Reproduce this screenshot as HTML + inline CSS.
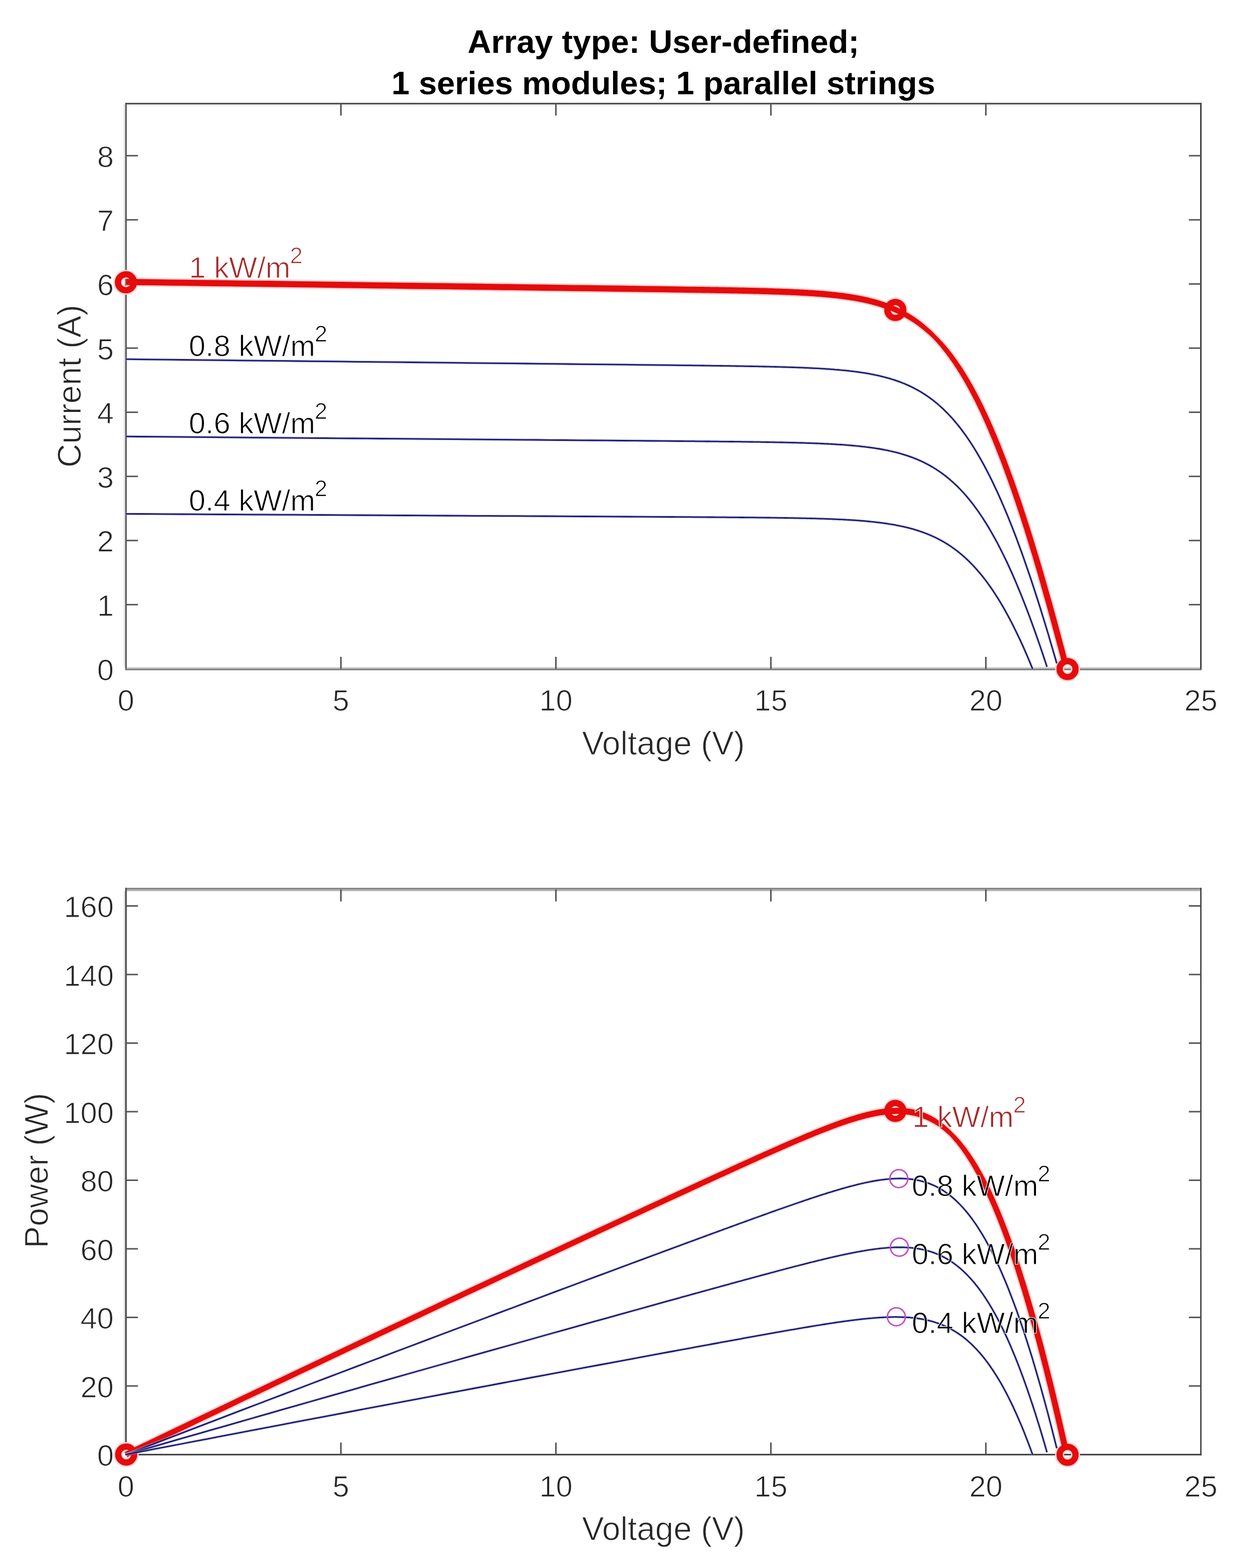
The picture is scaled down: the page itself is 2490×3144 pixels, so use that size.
<!DOCTYPE html>
<html><head><meta charset="utf-8"><title>PV array I-V and P-V characteristics</title>
<style>html,body{margin:0;padding:0;background:#fff;} svg{display:block;}</style>
</head><body>
<svg width="2490" height="3144" viewBox="0 0 2490 3144" font-family="'Liberation Sans', Arial, Helvetica, sans-serif">
<rect x="0" y="0" width="2490" height="3144" fill="#ffffff"/>
<text x="1330" y="105.9" font-size="65.4" font-weight="bold" fill="#000" text-anchor="middle">Array type: User-defined;</text>
<text x="1330" y="189.3" font-size="65.4" font-weight="bold" fill="#000" text-anchor="middle">1 series modules; 1 parallel strings</text>
<rect x="248.2" y="209.2" width="2160.9" height="2.8" fill="#e8e8e8"/>
<rect x="248.2" y="209.2" width="3.0" height="1129.0" fill="#dcdcdc"/>
<rect x="251.2" y="206.2" width="2157.9" height="3.0" fill="#474747"/>
<rect x="251.2" y="206.2" width="2.9" height="1137.7" fill="#505050"/>
<rect x="2406.0" y="206.2" width="3.1" height="1137.7" fill="#444444"/>
<rect x="254.1" y="1338.2" width="2151.9" height="2.9" fill="#bdbdbd"/>
<rect x="251.2" y="1341.1" width="2157.9" height="2.8" fill="#7a7a7a"/>
<text x="252.5" y="1425.0" font-size="60" fill="#262626" stroke="#ffffff" stroke-width="1.1" text-anchor="middle">0</text>
<line x1="683.5" y1="1341.0" x2="683.5" y2="1317.0" stroke="#555555" stroke-width="3"/>
<line x1="683.5" y1="207.7" x2="683.5" y2="231.7" stroke="#555555" stroke-width="3"/>
<text x="683.5" y="1425.0" font-size="60" fill="#262626" stroke="#ffffff" stroke-width="1.1" text-anchor="middle">5</text>
<line x1="1114.5" y1="1341.0" x2="1114.5" y2="1317.0" stroke="#555555" stroke-width="3"/>
<line x1="1114.5" y1="207.7" x2="1114.5" y2="231.7" stroke="#555555" stroke-width="3"/>
<text x="1114.5" y="1425.0" font-size="60" fill="#262626" stroke="#ffffff" stroke-width="1.1" text-anchor="middle">10</text>
<line x1="1545.5" y1="1341.0" x2="1545.5" y2="1317.0" stroke="#555555" stroke-width="3"/>
<line x1="1545.5" y1="207.7" x2="1545.5" y2="231.7" stroke="#555555" stroke-width="3"/>
<text x="1545.5" y="1425.0" font-size="60" fill="#262626" stroke="#ffffff" stroke-width="1.1" text-anchor="middle">15</text>
<line x1="1976.5" y1="1341.0" x2="1976.5" y2="1317.0" stroke="#555555" stroke-width="3"/>
<line x1="1976.5" y1="207.7" x2="1976.5" y2="231.7" stroke="#555555" stroke-width="3"/>
<text x="1976.5" y="1425.0" font-size="60" fill="#262626" stroke="#ffffff" stroke-width="1.1" text-anchor="middle">20</text>
<text x="2407.5" y="1425.0" font-size="60" fill="#262626" stroke="#ffffff" stroke-width="1.1" text-anchor="middle">25</text>
<text x="228" y="1363.5" font-size="60" fill="#262626" stroke="#ffffff" stroke-width="1.1" text-anchor="end">0</text>
<line x1="252.5" y1="1212.4" x2="276.5" y2="1212.4" stroke="#555555" stroke-width="3"/>
<line x1="2407.5" y1="1212.4" x2="2383.5" y2="1212.4" stroke="#555555" stroke-width="3"/>
<text x="228" y="1234.9" font-size="60" fill="#262626" stroke="#ffffff" stroke-width="1.1" text-anchor="end">1</text>
<line x1="252.5" y1="1083.8" x2="276.5" y2="1083.8" stroke="#555555" stroke-width="3"/>
<line x1="2407.5" y1="1083.8" x2="2383.5" y2="1083.8" stroke="#555555" stroke-width="3"/>
<text x="228" y="1106.3" font-size="60" fill="#262626" stroke="#ffffff" stroke-width="1.1" text-anchor="end">2</text>
<line x1="252.5" y1="955.2" x2="276.5" y2="955.2" stroke="#555555" stroke-width="3"/>
<line x1="2407.5" y1="955.2" x2="2383.5" y2="955.2" stroke="#555555" stroke-width="3"/>
<text x="228" y="977.7" font-size="60" fill="#262626" stroke="#ffffff" stroke-width="1.1" text-anchor="end">3</text>
<line x1="252.5" y1="826.6" x2="276.5" y2="826.6" stroke="#555555" stroke-width="3"/>
<line x1="2407.5" y1="826.6" x2="2383.5" y2="826.6" stroke="#555555" stroke-width="3"/>
<text x="228" y="849.1" font-size="60" fill="#262626" stroke="#ffffff" stroke-width="1.1" text-anchor="end">4</text>
<line x1="252.5" y1="698.0" x2="276.5" y2="698.0" stroke="#555555" stroke-width="3"/>
<line x1="2407.5" y1="698.0" x2="2383.5" y2="698.0" stroke="#555555" stroke-width="3"/>
<text x="228" y="720.5" font-size="60" fill="#262626" stroke="#ffffff" stroke-width="1.1" text-anchor="end">5</text>
<line x1="252.5" y1="569.4" x2="276.5" y2="569.4" stroke="#555555" stroke-width="3"/>
<line x1="2407.5" y1="569.4" x2="2383.5" y2="569.4" stroke="#555555" stroke-width="3"/>
<text x="228" y="591.9" font-size="60" fill="#262626" stroke="#ffffff" stroke-width="1.1" text-anchor="end">6</text>
<line x1="252.5" y1="440.8" x2="276.5" y2="440.8" stroke="#555555" stroke-width="3"/>
<line x1="2407.5" y1="440.8" x2="2383.5" y2="440.8" stroke="#555555" stroke-width="3"/>
<text x="228" y="463.3" font-size="60" fill="#262626" stroke="#ffffff" stroke-width="1.1" text-anchor="end">7</text>
<line x1="252.5" y1="312.2" x2="276.5" y2="312.2" stroke="#555555" stroke-width="3"/>
<line x1="2407.5" y1="312.2" x2="2383.5" y2="312.2" stroke="#555555" stroke-width="3"/>
<text x="228" y="334.7" font-size="60" fill="#262626" stroke="#ffffff" stroke-width="1.1" text-anchor="end">8</text>
<text x="1330" y="1512.5" font-size="66" fill="#262626" stroke="#ffffff" stroke-width="1.1" text-anchor="middle">Voltage (V)</text>
<text transform="translate(161.9,774.3) rotate(-90)" font-size="66" fill="#262626" stroke="#ffffff" stroke-width="1.1" text-anchor="middle">Current (A)</text>
<rect x="248.4" y="1786.9" width="2.6" height="1128.2" fill="#d8d8d8"/>
<rect x="251.0" y="1780.2" width="2157.9" height="3.5" fill="#828282"/>
<rect x="254.2" y="1783.7" width="2152.0" height="3.2" fill="#b5b5b5"/>
<rect x="251.0" y="1780.2" width="3.2" height="1138.0" fill="#4d4d4d"/>
<rect x="2406.2" y="1780.2" width="2.7" height="1138.0" fill="#3e3e3e"/>
<rect x="251.0" y="2915.1" width="2157.9" height="3.1" fill="#3e3e3e"/>
<text x="252.5" y="3000.5" font-size="60" fill="#262626" stroke="#ffffff" stroke-width="1.1" text-anchor="middle">0</text>
<line x1="683.5" y1="2916.5" x2="683.5" y2="2892.5" stroke="#555555" stroke-width="3"/>
<line x1="683.5" y1="1783.5" x2="683.5" y2="1807.5" stroke="#555555" stroke-width="3"/>
<text x="683.5" y="3000.5" font-size="60" fill="#262626" stroke="#ffffff" stroke-width="1.1" text-anchor="middle">5</text>
<line x1="1114.5" y1="2916.5" x2="1114.5" y2="2892.5" stroke="#555555" stroke-width="3"/>
<line x1="1114.5" y1="1783.5" x2="1114.5" y2="1807.5" stroke="#555555" stroke-width="3"/>
<text x="1114.5" y="3000.5" font-size="60" fill="#262626" stroke="#ffffff" stroke-width="1.1" text-anchor="middle">10</text>
<line x1="1545.5" y1="2916.5" x2="1545.5" y2="2892.5" stroke="#555555" stroke-width="3"/>
<line x1="1545.5" y1="1783.5" x2="1545.5" y2="1807.5" stroke="#555555" stroke-width="3"/>
<text x="1545.5" y="3000.5" font-size="60" fill="#262626" stroke="#ffffff" stroke-width="1.1" text-anchor="middle">15</text>
<line x1="1976.5" y1="2916.5" x2="1976.5" y2="2892.5" stroke="#555555" stroke-width="3"/>
<line x1="1976.5" y1="1783.5" x2="1976.5" y2="1807.5" stroke="#555555" stroke-width="3"/>
<text x="1976.5" y="3000.5" font-size="60" fill="#262626" stroke="#ffffff" stroke-width="1.1" text-anchor="middle">20</text>
<text x="2407.5" y="3000.5" font-size="60" fill="#262626" stroke="#ffffff" stroke-width="1.1" text-anchor="middle">25</text>
<text x="228" y="2939.0" font-size="60" fill="#262626" stroke="#ffffff" stroke-width="1.1" text-anchor="end">0</text>
<line x1="252.5" y1="2779.0" x2="276.5" y2="2779.0" stroke="#555555" stroke-width="3"/>
<line x1="2407.5" y1="2779.0" x2="2383.5" y2="2779.0" stroke="#555555" stroke-width="3"/>
<text x="228" y="2801.5" font-size="60" fill="#262626" stroke="#ffffff" stroke-width="1.1" text-anchor="end">20</text>
<line x1="252.5" y1="2641.5" x2="276.5" y2="2641.5" stroke="#555555" stroke-width="3"/>
<line x1="2407.5" y1="2641.5" x2="2383.5" y2="2641.5" stroke="#555555" stroke-width="3"/>
<text x="228" y="2664.0" font-size="60" fill="#262626" stroke="#ffffff" stroke-width="1.1" text-anchor="end">40</text>
<line x1="252.5" y1="2504.0" x2="276.5" y2="2504.0" stroke="#555555" stroke-width="3"/>
<line x1="2407.5" y1="2504.0" x2="2383.5" y2="2504.0" stroke="#555555" stroke-width="3"/>
<text x="228" y="2526.5" font-size="60" fill="#262626" stroke="#ffffff" stroke-width="1.1" text-anchor="end">60</text>
<line x1="252.5" y1="2366.5" x2="276.5" y2="2366.5" stroke="#555555" stroke-width="3"/>
<line x1="2407.5" y1="2366.5" x2="2383.5" y2="2366.5" stroke="#555555" stroke-width="3"/>
<text x="228" y="2389.0" font-size="60" fill="#262626" stroke="#ffffff" stroke-width="1.1" text-anchor="end">80</text>
<line x1="252.5" y1="2229.0" x2="276.5" y2="2229.0" stroke="#555555" stroke-width="3"/>
<line x1="2407.5" y1="2229.0" x2="2383.5" y2="2229.0" stroke="#555555" stroke-width="3"/>
<text x="228" y="2251.5" font-size="60" fill="#262626" stroke="#ffffff" stroke-width="1.1" text-anchor="end">100</text>
<line x1="252.5" y1="2091.5" x2="276.5" y2="2091.5" stroke="#555555" stroke-width="3"/>
<line x1="2407.5" y1="2091.5" x2="2383.5" y2="2091.5" stroke="#555555" stroke-width="3"/>
<text x="228" y="2114.0" font-size="60" fill="#262626" stroke="#ffffff" stroke-width="1.1" text-anchor="end">120</text>
<line x1="252.5" y1="1954.0" x2="276.5" y2="1954.0" stroke="#555555" stroke-width="3"/>
<line x1="2407.5" y1="1954.0" x2="2383.5" y2="1954.0" stroke="#555555" stroke-width="3"/>
<text x="228" y="1976.5" font-size="60" fill="#262626" stroke="#ffffff" stroke-width="1.1" text-anchor="end">140</text>
<line x1="252.5" y1="1816.5" x2="276.5" y2="1816.5" stroke="#555555" stroke-width="3"/>
<line x1="2407.5" y1="1816.5" x2="2383.5" y2="1816.5" stroke="#555555" stroke-width="3"/>
<text x="228" y="1839.0" font-size="60" fill="#262626" stroke="#ffffff" stroke-width="1.1" text-anchor="end">160</text>
<text x="1330" y="3088.0" font-size="66" fill="#262626" stroke="#ffffff" stroke-width="1.1" text-anchor="middle">Voltage (V)</text>
<text transform="translate(95.9,2347) rotate(-90)" font-size="66" fill="#262626" stroke="#ffffff" stroke-width="1.1" text-anchor="middle">Power (W)</text>
<g fill="none" stroke-linejoin="round" stroke-linecap="butt">
<path d="M252.4,574.3 L281.3,574.7 L310.3,575.1 L339.2,575.5 L368.2,575.9 L397.1,576.3 L426.0,576.7 L455.0,577.1 L483.9,577.5 L512.9,577.9 L541.8,578.2 L570.8,578.6 L599.7,579.0 L628.7,579.4 L657.6,579.8 L686.6,580.2 L715.5,580.6 L744.4,581.0 L773.4,581.4 L802.3,581.8 L831.3,582.2 L860.2,582.6 L889.2,582.9 L918.1,583.3 L947.1,583.7 L976.0,584.1 L1004.9,584.5 L1033.9,584.9 L1062.8,585.3 L1091.8,585.7 L1120.7,586.1 L1149.7,586.5 L1178.6,586.9 L1207.6,587.3 L1236.5,587.7 L1265.4,588.1 L1294.4,588.5 L1323.3,588.9 L1352.3,589.3 L1381.2,589.7 L1384.1,589.8 L1387.0,589.8 L1389.9,589.9 L1392.8,589.9 L1395.7,590.0 L1398.6,590.0 L1401.5,590.1 L1404.4,590.1 L1407.4,590.2 L1410.3,590.2 L1413.2,590.3 L1416.1,590.3 L1419.0,590.4 L1421.9,590.4 L1424.8,590.5 L1427.7,590.5 L1430.6,590.6 L1433.5,590.6 L1436.4,590.7 L1439.3,590.7 L1442.2,590.8 L1445.1,590.8 L1448.0,590.9 L1450.9,590.9 L1453.8,591.0 L1456.7,591.0 L1459.6,591.1 L1462.5,591.1 L1465.4,591.2 L1468.3,591.2 L1471.2,591.3 L1474.1,591.4 L1477.1,591.4 L1480.0,591.5 L1482.9,591.5 L1485.8,591.6 L1488.7,591.7 L1491.6,591.7 L1494.5,591.8 L1497.4,591.9 L1500.3,591.9 L1503.2,592.0 L1506.1,592.1 L1509.0,592.1 L1511.9,592.2 L1514.8,592.3 L1517.7,592.3 L1520.6,592.4 L1523.5,592.5 L1526.4,592.6 L1529.3,592.7 L1532.2,592.7 L1535.1,592.8 L1538.0,592.9 L1540.9,593.0 L1543.8,593.1 L1546.7,593.2 L1549.6,593.3 L1552.5,593.4 L1555.4,593.4 L1558.3,593.5 L1561.2,593.6 L1564.1,593.8 L1567.0,593.9 L1569.9,594.0 L1572.8,594.1 L1575.7,594.2 L1578.6,594.3 L1581.5,594.4 L1584.4,594.5 L1587.3,594.7 L1590.2,594.8 L1593.0,594.9 L1595.9,595.1 L1598.8,595.2 L1601.7,595.4 L1604.6,595.5 L1607.5,595.7 L1610.4,595.8 L1613.3,596.0 L1616.2,596.1 L1619.1,596.3 L1622.0,596.5 L1624.9,596.7 L1627.7,596.9 L1630.6,597.0 L1633.5,597.2 L1636.4,597.4 L1639.3,597.7 L1642.2,597.9 L1645.1,598.1 L1647.9,598.3 L1650.8,598.6 L1653.7,598.8 L1656.6,599.1 L1659.5,599.3 L1662.3,599.6 L1665.2,599.9 L1668.1,600.2 L1671.0,600.5 L1673.8,600.8 L1676.7,601.1 L1679.6,601.4 L1682.5,601.8 L1685.3,602.1 L1688.2,602.5 L1691.1,602.9 L1693.9,603.2 L1696.8,603.6 L1699.7,604.1 L1702.5,604.5 L1705.4,604.9 L1708.2,605.4 L1711.1,605.9 L1714.0,606.4 L1716.8,606.9 L1719.7,607.4 L1722.5,607.9 L1725.4,608.5 L1728.2,609.1 L1731.1,609.7 L1733.9,610.3 L1736.8,610.9 L1739.6,611.6 L1742.4,612.3 L1745.3,613.0 L1748.1,613.7 L1751.0,614.4 L1753.8,615.2 L1756.6,616.0 L1759.5,616.9 L1762.3,617.7 L1765.1,618.6 L1768.0,619.5 L1770.8,620.5 L1773.6,621.4 L1776.4,622.5 L1779.3,623.5 L1782.1,624.6 L1784.9,625.7 L1787.7,626.8 L1790.6,628.0 L1793.4,629.3 L1796.2,630.5 L1799.0,631.8 L1801.9,633.2 L1804.7,634.6 L1807.5,636.0 L1810.3,637.5 L1813.2,639.1 L1816.0,640.7 L1818.8,642.3 L1821.7,644.0 L1824.5,645.7 L1827.3,647.5 L1830.2,649.4 L1833.0,651.3 L1835.9,653.3 L1838.7,655.3 L1841.6,657.5 L1844.4,659.6 L1847.3,661.9 L1850.1,664.2 L1853.0,666.5 L1855.9,669.0 L1858.7,671.5 L1861.6,674.1 L1864.5,676.8 L1867.3,679.6 L1870.1,682.5 L1872.9,685.5 L1875.7,688.5 L1878.5,691.7 L1881.3,694.9 L1884.1,698.3 L1887.0,701.7 L1889.8,705.2 L1892.6,708.8 L1895.4,712.4 L1898.2,716.2 L1901.0,720.1 L1903.8,724.0 L1906.7,728.1 L1909.5,732.2 L1912.3,736.4 L1915.2,740.8 L1918.0,745.2 L1920.8,749.7 L1923.7,754.4 L1926.5,759.1 L1929.3,764.0 L1932.2,768.9 L1935.0,773.9 L1937.9,779.1 L1940.7,784.3 L1943.6,789.7 L1946.5,795.2 L1949.3,800.7 L1952.2,806.4 L1955.0,812.2 L1957.9,818.1 L1960.8,824.0 L1963.6,830.1 L1966.5,836.3 L1969.4,842.7 L1972.2,849.1 L1975.1,855.6 L1978.0,862.2 L1980.8,868.9 L1983.7,875.8 L1986.6,882.7 L1989.5,889.8 L1992.4,896.9 L1995.2,904.2 L1998.1,911.5 L2001.0,919.0 L2003.9,926.6 L2006.8,934.2 L2009.7,942.0 L2012.5,949.9 L2015.4,957.8 L2018.3,965.9 L2021.2,974.1 L2024.1,982.3 L2027.0,990.7 L2029.9,999.1 L2032.8,1007.7 L2035.6,1016.3 L2038.5,1025.1 L2041.4,1033.9 L2044.3,1042.8 L2047.2,1051.8 L2050.1,1061.0 L2053.0,1070.1 L2055.9,1079.4 L2058.8,1088.8 L2061.7,1098.3 L2064.6,1107.8 L2067.5,1117.4 L2070.4,1127.1 L2073.3,1136.9 L2076.2,1146.8 L2079.1,1156.8 L2082.0,1166.8 L2084.9,1176.9 L2087.8,1187.1 L2090.7,1197.4 L2093.6,1207.8 L2096.4,1218.2 L2099.3,1228.7 L2102.2,1239.3 L2105.1,1249.9 L2108.0,1260.7 L2110.9,1271.5 L2113.8,1282.3 L2116.7,1293.3 L2119.6,1304.3 L2122.5,1315.3 L2125.4,1326.5 L2142.4,1322.1 L2139.5,1310.9 L2136.6,1299.8 L2133.7,1288.8 L2130.7,1277.8 L2127.8,1266.9 L2124.9,1256.1 L2122.0,1245.4 L2119.1,1234.7 L2116.2,1224.1 L2113.3,1213.5 L2110.4,1203.1 L2107.4,1192.7 L2104.5,1182.4 L2101.6,1172.2 L2098.7,1162.0 L2095.8,1151.9 L2092.9,1141.9 L2090.0,1132.0 L2087.0,1122.2 L2084.1,1112.4 L2081.2,1102.8 L2078.3,1093.2 L2075.4,1083.7 L2072.5,1074.3 L2069.5,1065.0 L2066.6,1055.7 L2063.7,1046.6 L2060.8,1037.5 L2057.9,1028.5 L2055.0,1019.7 L2052.0,1010.9 L2049.1,1002.2 L2046.2,993.6 L2043.3,985.1 L2040.3,976.7 L2037.4,968.3 L2034.5,960.1 L2031.6,952.0 L2028.6,944.0 L2025.7,936.0 L2022.8,928.2 L2019.9,920.5 L2016.9,912.9 L2014.0,905.3 L2011.1,897.9 L2008.1,890.6 L2005.2,883.4 L2002.3,876.2 L1999.3,869.2 L1996.4,862.3 L1993.5,855.5 L1990.5,848.8 L1987.6,842.2 L1984.7,835.7 L1981.7,829.3 L1978.8,823.0 L1975.8,816.9 L1972.9,810.8 L1969.9,804.8 L1967.0,798.9 L1964.0,793.2 L1961.1,787.5 L1958.1,782.0 L1955.2,776.5 L1952.2,771.2 L1949.2,765.9 L1946.3,760.8 L1943.3,755.7 L1940.3,750.8 L1937.4,746.0 L1934.4,741.2 L1931.4,736.6 L1928.4,732.1 L1925.5,727.6 L1922.5,723.3 L1919.5,719.1 L1916.5,714.9 L1913.5,710.9 L1910.5,706.9 L1907.5,703.1 L1904.5,699.3 L1901.5,695.6 L1898.5,692.0 L1895.5,688.6 L1892.5,685.2 L1889.5,681.8 L1886.5,678.6 L1883.5,675.5 L1880.5,672.4 L1877.5,669.4 L1874.5,666.5 L1871.6,663.6 L1868.6,660.7 L1865.7,658.0 L1862.8,655.3 L1859.8,652.7 L1856.9,650.2 L1853.9,647.7 L1850.9,645.3 L1848.0,643.0 L1845.0,640.7 L1842.1,638.6 L1839.1,636.4 L1836.1,634.4 L1833.1,632.4 L1830.2,630.4 L1827.2,628.5 L1824.2,626.7 L1821.2,624.9 L1818.2,623.2 L1815.3,621.5 L1812.3,619.9 L1809.3,618.4 L1806.3,616.9 L1803.3,615.4 L1800.3,614.0 L1797.3,612.6 L1794.4,611.3 L1791.4,610.0 L1788.4,608.8 L1785.4,607.6 L1782.4,606.4 L1779.4,605.3 L1776.4,604.2 L1773.5,603.2 L1770.5,602.2 L1767.5,601.2 L1764.5,600.2 L1761.5,599.3 L1758.6,598.5 L1755.6,597.6 L1752.6,596.8 L1749.6,596.0 L1746.7,595.2 L1743.7,594.5 L1740.7,593.8 L1737.8,593.1 L1734.8,592.4 L1731.8,591.8 L1728.9,591.2 L1725.9,590.6 L1723.0,590.0 L1720.0,589.4 L1717.0,588.9 L1714.1,588.4 L1711.1,587.9 L1708.2,587.4 L1705.2,586.9 L1702.3,586.5 L1699.3,586.1 L1696.4,585.6 L1693.4,585.2 L1690.5,584.8 L1687.6,584.5 L1684.6,584.1 L1681.7,583.7 L1678.7,583.4 L1675.8,583.1 L1672.9,582.7 L1669.9,582.4 L1667.0,582.1 L1664.1,581.8 L1661.1,581.6 L1658.2,581.3 L1655.3,581.0 L1652.3,580.8 L1649.4,580.5 L1646.5,580.3 L1643.5,580.1 L1640.6,579.8 L1637.7,579.6 L1634.8,579.4 L1631.8,579.2 L1628.9,579.0 L1626.0,578.8 L1623.1,578.6 L1620.2,578.5 L1617.2,578.3 L1614.3,578.1 L1611.4,578.0 L1608.5,577.8 L1605.5,577.6 L1602.6,577.5 L1599.7,577.3 L1596.8,577.2 L1593.9,577.1 L1591.0,576.9 L1588.0,576.8 L1585.1,576.7 L1582.2,576.5 L1579.3,576.4 L1576.4,576.3 L1573.5,576.2 L1570.6,576.1 L1567.6,576.0 L1564.7,575.9 L1561.8,575.8 L1558.9,575.7 L1556.0,575.6 L1553.1,575.5 L1550.2,575.4 L1547.3,575.3 L1544.3,575.2 L1541.4,575.1 L1538.5,575.0 L1535.6,574.9 L1532.7,574.8 L1529.8,574.8 L1526.9,574.7 L1524.0,574.6 L1521.1,574.5 L1518.1,574.5 L1515.2,574.4 L1512.3,574.3 L1509.4,574.2 L1506.5,574.2 L1503.6,574.1 L1500.7,574.0 L1497.8,574.0 L1494.9,573.9 L1492.0,573.8 L1489.1,573.8 L1486.1,573.7 L1483.2,573.6 L1480.3,573.6 L1477.4,573.5 L1474.5,573.5 L1471.6,573.4 L1468.7,573.4 L1465.8,573.3 L1462.9,573.2 L1460.0,573.2 L1457.1,573.1 L1454.2,573.1 L1451.2,573.0 L1448.3,573.0 L1445.4,572.9 L1442.5,572.9 L1439.6,572.8 L1436.7,572.8 L1433.8,572.7 L1430.9,572.7 L1428.0,572.6 L1425.1,572.6 L1422.2,572.5 L1419.3,572.5 L1416.4,572.4 L1413.5,572.4 L1410.6,572.3 L1407.6,572.3 L1404.7,572.2 L1401.8,572.2 L1398.9,572.1 L1396.0,572.1 L1393.1,572.0 L1390.2,572.0 L1387.3,571.9 L1384.4,571.9 L1381.5,571.9 L1352.5,571.4 L1323.6,571.0 L1294.6,570.6 L1265.7,570.2 L1236.7,569.8 L1207.8,569.4 L1178.9,569.0 L1149.9,568.6 L1121.0,568.2 L1092.0,567.8 L1063.1,567.4 L1034.1,567.0 L1005.2,566.6 L976.2,566.2 L947.3,565.8 L918.4,565.4 L889.4,565.0 L860.5,564.7 L831.5,564.3 L802.6,563.9 L773.6,563.5 L744.7,563.1 L715.7,562.7 L686.8,562.3 L657.8,561.9 L628.9,561.5 L600.0,561.1 L571.0,560.7 L542.1,560.3 L513.1,560.0 L484.2,559.6 L455.2,559.2 L426.3,558.8 L397.3,558.4 L368.4,558.0 L339.5,557.6 L310.5,557.2 L281.6,556.8 L252.6,556.4 Z" fill="#ffd2d2" stroke="none"/><circle cx="252.5" cy="566.0" r="16" stroke="#ffd2d2" stroke-width="18"/><circle cx="1795.0" cy="621.5" r="16" stroke="#ffd2d2" stroke-width="18"/><circle cx="2140.3" cy="1341.5" r="16" stroke="#ffd2d2" stroke-width="18"/><path d="M252.4,571.5 L281.4,571.9 L310.3,572.3 L339.3,572.7 L368.2,573.1 L397.1,573.5 L426.1,573.9 L455.0,574.3 L484.0,574.7 L512.9,575.1 L541.9,575.4 L570.8,575.8 L599.8,576.2 L628.7,576.6 L657.6,577.0 L686.6,577.4 L715.5,577.8 L744.5,578.2 L773.4,578.6 L802.4,579.0 L831.3,579.4 L860.3,579.8 L889.2,580.1 L918.1,580.5 L947.1,580.9 L976.0,581.3 L1005.0,581.7 L1033.9,582.1 L1062.9,582.5 L1091.8,582.9 L1120.8,583.3 L1149.7,583.7 L1178.7,584.1 L1207.6,584.5 L1236.5,584.9 L1265.5,585.3 L1294.4,585.7 L1323.4,586.1 L1352.3,586.5 L1381.3,586.9 L1384.2,587.0 L1387.1,587.0 L1390.0,587.1 L1392.9,587.1 L1395.8,587.2 L1398.7,587.2 L1401.6,587.3 L1404.5,587.3 L1407.4,587.4 L1410.3,587.4 L1413.2,587.5 L1416.1,587.5 L1419.0,587.6 L1421.9,587.6 L1424.8,587.7 L1427.7,587.7 L1430.6,587.8 L1433.5,587.8 L1436.4,587.9 L1439.4,587.9 L1442.3,588.0 L1445.2,588.0 L1448.1,588.1 L1451.0,588.1 L1453.9,588.2 L1456.8,588.2 L1459.7,588.3 L1462.6,588.3 L1465.5,588.4 L1468.4,588.4 L1471.3,588.5 L1474.2,588.6 L1477.1,588.6 L1480.0,588.7 L1482.9,588.7 L1485.8,588.8 L1488.7,588.9 L1491.6,588.9 L1494.5,589.0 L1497.4,589.1 L1500.3,589.1 L1503.2,589.2 L1506.1,589.3 L1509.0,589.3 L1512.0,589.4 L1514.9,589.5 L1517.8,589.5 L1520.7,589.6 L1523.6,589.7 L1526.5,589.8 L1529.4,589.9 L1532.3,589.9 L1535.2,590.0 L1538.1,590.1 L1541.0,590.2 L1543.9,590.3 L1546.8,590.4 L1549.7,590.5 L1552.6,590.6 L1555.5,590.7 L1558.4,590.7 L1561.3,590.8 L1564.2,591.0 L1567.1,591.1 L1570.0,591.2 L1572.9,591.3 L1575.8,591.4 L1578.7,591.5 L1581.6,591.6 L1584.5,591.7 L1587.4,591.9 L1590.3,592.0 L1593.2,592.1 L1596.1,592.3 L1599.0,592.4 L1601.9,592.6 L1604.8,592.7 L1607.7,592.9 L1610.6,593.0 L1613.5,593.2 L1616.3,593.3 L1619.2,593.5 L1622.1,593.7 L1625.0,593.9 L1627.9,594.1 L1630.8,594.3 L1633.7,594.5 L1636.6,594.7 L1639.5,594.9 L1642.4,595.1 L1645.3,595.3 L1648.2,595.5 L1651.1,595.8 L1653.9,596.0 L1656.8,596.3 L1659.7,596.5 L1662.6,596.8 L1665.5,597.1 L1668.4,597.4 L1671.3,597.7 L1674.2,598.0 L1677.0,598.3 L1679.9,598.6 L1682.8,599.0 L1685.7,599.3 L1688.6,599.7 L1691.4,600.1 L1694.3,600.5 L1697.2,600.9 L1700.1,601.3 L1703.0,601.7 L1705.8,602.2 L1708.7,602.6 L1711.6,603.1 L1714.4,603.6 L1717.3,604.1 L1720.2,604.6 L1723.1,605.2 L1725.9,605.7 L1728.8,606.3 L1731.7,606.9 L1734.5,607.5 L1737.4,608.2 L1740.3,608.8 L1743.1,609.5 L1746.0,610.2 L1748.8,611.0 L1751.7,611.7 L1754.6,612.5 L1757.4,613.3 L1760.3,614.2 L1763.1,615.0 L1766.0,615.9 L1768.8,616.9 L1771.7,617.8 L1774.6,618.8 L1777.4,619.8 L1780.3,620.9 L1783.1,622.0 L1786.0,623.1 L1788.8,624.3 L1791.7,625.5 L1794.5,626.7 L1797.4,628.0 L1800.3,629.3 L1803.1,630.7 L1806.0,632.1 L1808.8,633.6 L1811.7,635.1 L1814.6,636.6 L1817.4,638.2 L1820.3,639.9 L1823.1,641.6 L1826.0,643.4 L1828.9,645.2 L1831.8,647.1 L1834.6,649.0 L1837.5,651.0 L1840.4,653.1 L1843.3,655.2 L1846.2,657.4 L1849.0,659.7 L1851.9,662.0 L1854.8,664.4 L1857.7,666.9 L1860.6,669.5 L1863.5,672.1 L1866.4,674.8 L1869.3,677.6 L1872.2,680.5 L1875.0,683.5 L1877.8,686.6 L1880.6,689.8 L1883.5,693.1 L1886.3,696.4 L1889.1,699.9 L1891.9,703.4 L1894.8,707.0 L1897.6,710.7 L1900.4,714.5 L1903.3,718.4 L1906.1,722.4 L1909.0,726.5 L1911.8,730.6 L1914.7,734.9 L1917.5,739.2 L1920.3,743.7 L1923.2,748.3 L1926.1,752.9 L1928.9,757.7 L1931.8,762.5 L1934.6,767.5 L1937.5,772.6 L1940.3,777.7 L1943.2,783.0 L1946.1,788.4 L1948.9,793.9 L1951.8,799.4 L1954.7,805.1 L1957.5,810.9 L1960.4,816.8 L1963.3,822.8 L1966.2,829.0 L1969.0,835.2 L1971.9,841.5 L1974.8,847.9 L1977.7,854.5 L1980.5,861.1 L1983.4,867.9 L1986.3,874.7 L1989.2,881.7 L1992.1,888.7 L1995.0,895.9 L1997.8,903.2 L2000.7,910.5 L2003.6,918.0 L2006.5,925.6 L2009.4,933.2 L2012.3,941.0 L2015.2,948.9 L2018.1,956.9 L2020.9,965.0 L2023.8,973.1 L2026.7,981.4 L2029.6,989.8 L2032.5,998.2 L2035.4,1006.8 L2038.3,1015.4 L2041.2,1024.2 L2044.1,1033.0 L2047.0,1042.0 L2049.9,1051.0 L2052.8,1060.1 L2055.7,1069.3 L2058.6,1078.6 L2061.5,1088.0 L2064.4,1097.4 L2067.3,1107.0 L2070.2,1116.6 L2073.1,1126.3 L2076.0,1136.2 L2078.9,1146.0 L2081.8,1156.0 L2084.6,1166.1 L2087.5,1176.2 L2090.4,1186.4 L2093.3,1196.7 L2096.2,1207.0 L2099.1,1217.5 L2102.0,1228.0 L2104.9,1238.6 L2107.8,1249.2 L2110.7,1259.9 L2113.6,1270.7 L2116.5,1281.6 L2119.4,1292.5 L2122.4,1303.6 L2125.3,1314.6 L2128.2,1325.8 L2139.7,1322.8 L2136.8,1311.6 L2133.9,1300.5 L2130.9,1289.5 L2128.0,1278.6 L2125.1,1267.7 L2122.2,1256.8 L2119.3,1246.1 L2116.4,1235.4 L2113.5,1224.8 L2110.6,1214.3 L2107.7,1203.8 L2104.7,1193.5 L2101.8,1183.2 L2098.9,1172.9 L2096.0,1162.8 L2093.1,1152.7 L2090.2,1142.7 L2087.3,1132.8 L2084.4,1123.0 L2081.4,1113.2 L2078.5,1103.6 L2075.6,1094.0 L2072.7,1084.5 L2069.8,1075.1 L2066.9,1065.8 L2064.0,1056.6 L2061.0,1047.4 L2058.1,1038.4 L2055.2,1029.4 L2052.3,1020.5 L2049.4,1011.8 L2046.5,1003.1 L2043.5,994.5 L2040.6,986.0 L2037.7,977.6 L2034.8,969.3 L2031.9,961.1 L2028.9,953.0 L2026.0,944.9 L2023.1,937.0 L2020.2,929.2 L2017.3,921.5 L2014.3,913.9 L2011.4,906.4 L2008.5,898.9 L2005.6,891.6 L2002.6,884.4 L1999.7,877.3 L1996.8,870.3 L1993.8,863.4 L1990.9,856.6 L1988.0,849.9 L1985.0,843.3 L1982.1,836.9 L1979.2,830.5 L1976.2,824.2 L1973.3,818.1 L1970.4,812.0 L1967.4,806.0 L1964.5,800.2 L1961.5,794.5 L1958.6,788.8 L1955.6,783.3 L1952.7,777.8 L1949.8,772.5 L1946.8,767.3 L1943.9,762.2 L1940.9,757.2 L1937.9,752.2 L1935.0,747.4 L1932.0,742.7 L1929.1,738.1 L1926.1,733.6 L1923.1,729.2 L1920.2,724.9 L1917.2,720.7 L1914.2,716.6 L1911.3,712.5 L1908.3,708.6 L1905.3,704.8 L1902.3,701.0 L1899.4,697.4 L1896.4,693.8 L1893.4,690.4 L1890.4,687.0 L1887.4,683.7 L1884.4,680.5 L1881.5,677.4 L1878.5,674.4 L1875.5,671.4 L1872.6,668.5 L1869.7,665.6 L1866.8,662.8 L1863.8,660.1 L1860.9,657.4 L1858.0,654.9 L1855.1,652.4 L1852.2,649.9 L1849.2,647.5 L1846.3,645.2 L1843.4,643.0 L1840.4,640.8 L1837.5,638.7 L1834.6,636.7 L1831.6,634.7 L1828.7,632.8 L1825.7,630.9 L1822.8,629.1 L1819.8,627.4 L1816.9,625.7 L1813.9,624.0 L1811.0,622.4 L1808.0,620.9 L1805.1,619.4 L1802.1,617.9 L1799.2,616.5 L1796.2,615.2 L1793.3,613.9 L1790.3,612.6 L1787.4,611.4 L1784.4,610.2 L1781.4,609.0 L1778.5,607.9 L1775.5,606.9 L1772.6,605.8 L1769.6,604.8 L1766.7,603.9 L1763.7,602.9 L1760.8,602.0 L1757.8,601.1 L1754.8,600.3 L1751.9,599.5 L1748.9,598.7 L1746.0,598.0 L1743.0,597.2 L1740.1,596.5 L1737.2,595.8 L1734.2,595.2 L1731.3,594.5 L1728.3,593.9 L1725.4,593.3 L1722.4,592.8 L1719.5,592.2 L1716.6,591.7 L1713.6,591.2 L1710.7,590.7 L1707.7,590.2 L1704.8,589.7 L1701.9,589.3 L1698.9,588.8 L1696.0,588.4 L1693.1,588.0 L1690.1,587.6 L1687.2,587.2 L1684.3,586.9 L1681.3,586.5 L1678.4,586.2 L1675.5,585.8 L1672.6,585.5 L1669.6,585.2 L1666.7,584.9 L1663.8,584.6 L1660.9,584.4 L1657.9,584.1 L1655.0,583.8 L1652.1,583.6 L1649.2,583.3 L1646.2,583.1 L1643.3,582.9 L1640.4,582.6 L1637.5,582.4 L1634.6,582.2 L1631.7,582.0 L1628.7,581.8 L1625.8,581.6 L1622.9,581.4 L1620.0,581.3 L1617.1,581.1 L1614.1,580.9 L1611.2,580.8 L1608.3,580.6 L1605.4,580.4 L1602.5,580.3 L1599.6,580.1 L1596.7,580.0 L1593.7,579.9 L1590.8,579.7 L1587.9,579.6 L1585.0,579.5 L1582.1,579.3 L1579.2,579.2 L1576.3,579.1 L1573.4,579.0 L1570.4,578.9 L1567.5,578.8 L1564.6,578.7 L1561.7,578.6 L1558.8,578.5 L1555.9,578.4 L1553.0,578.3 L1550.1,578.2 L1547.2,578.1 L1544.3,578.0 L1541.3,577.9 L1538.4,577.8 L1535.5,577.7 L1532.6,577.6 L1529.7,577.6 L1526.8,577.5 L1523.9,577.4 L1521.0,577.3 L1518.1,577.3 L1515.2,577.2 L1512.3,577.1 L1509.3,577.0 L1506.4,577.0 L1503.5,576.9 L1500.6,576.8 L1497.7,576.8 L1494.8,576.7 L1491.9,576.6 L1489.0,576.6 L1486.1,576.5 L1483.2,576.4 L1480.3,576.4 L1477.4,576.3 L1474.5,576.3 L1471.5,576.2 L1468.6,576.2 L1465.7,576.1 L1462.8,576.0 L1459.9,576.0 L1457.0,575.9 L1454.1,575.9 L1451.2,575.8 L1448.3,575.8 L1445.4,575.7 L1442.5,575.7 L1439.6,575.6 L1436.7,575.6 L1433.8,575.5 L1430.9,575.5 L1427.9,575.4 L1425.0,575.4 L1422.1,575.3 L1419.2,575.3 L1416.3,575.2 L1413.4,575.2 L1410.5,575.1 L1407.6,575.1 L1404.7,575.0 L1401.8,575.0 L1398.9,574.9 L1396.0,574.9 L1393.1,574.8 L1390.2,574.8 L1387.3,574.7 L1384.3,574.7 L1381.4,574.7 L1352.5,574.2 L1323.5,573.8 L1294.6,573.4 L1265.7,573.0 L1236.7,572.6 L1207.8,572.2 L1178.8,571.8 L1149.9,571.4 L1120.9,571.0 L1092.0,570.6 L1063.0,570.2 L1034.1,569.8 L1005.1,569.4 L976.2,569.0 L947.3,568.6 L918.3,568.2 L889.4,567.8 L860.4,567.5 L831.5,567.1 L802.5,566.7 L773.6,566.3 L744.6,565.9 L715.7,565.5 L686.8,565.1 L657.8,564.7 L628.9,564.3 L599.9,563.9 L571.0,563.5 L542.0,563.1 L513.1,562.8 L484.1,562.4 L455.2,562.0 L426.3,561.6 L397.3,561.2 L368.4,560.8 L339.4,560.4 L310.5,560.0 L281.5,559.6 L252.6,559.2 Z" fill="#e40c0c" stroke="none"/><circle cx="252.5" cy="566.0" r="16" stroke="#e40c0c" stroke-width="12.5"/><circle cx="1795.0" cy="621.5" r="16" stroke="#e40c0c" stroke-width="12.5"/><circle cx="2140.3" cy="1341.5" r="16" stroke="#e40c0c" stroke-width="12.5"/>
<path d="M252.5,720.2 L281.2,720.6 L309.9,720.9 L338.6,721.2 L367.3,721.5 L396.0,721.8 L424.8,722.1 L453.5,722.4 L482.2,722.8 L510.9,723.1 L539.6,723.4 L568.3,723.7 L597.0,724.0 L625.7,724.3 L654.4,724.6 L683.1,724.9 L711.8,725.3 L740.5,725.6 L769.3,725.9 L798.0,726.2 L826.7,726.5 L855.4,726.8 L884.1,727.1 L912.8,727.4 L941.5,727.8 L970.2,728.1 L998.9,728.4 L1027.6,728.7 L1056.3,729.0 L1085.0,729.3 L1113.8,729.6 L1142.5,730.0 L1171.2,730.3 L1199.9,730.6 L1228.6,730.9 L1257.3,731.2 L1286.0,731.6 L1314.7,731.9 L1343.4,732.2 L1372.1,732.6 L1375.0,732.6 L1377.9,732.6 L1380.8,732.7 L1383.7,732.7 L1386.5,732.7 L1389.4,732.8 L1392.3,732.8 L1395.2,732.8 L1398.1,732.9 L1401.0,732.9 L1403.8,732.9 L1406.7,733.0 L1409.6,733.0 L1412.5,733.1 L1415.4,733.1 L1418.2,733.1 L1421.1,733.2 L1424.0,733.2 L1426.9,733.3 L1429.8,733.3 L1432.7,733.3 L1435.5,733.4 L1438.4,733.4 L1441.3,733.4 L1444.2,733.5 L1447.1,733.5 L1449.9,733.6 L1452.8,733.6 L1455.7,733.7 L1458.6,733.7 L1461.5,733.7 L1464.4,733.8 L1467.2,733.8 L1470.1,733.9 L1473.0,733.9 L1475.9,734.0 L1478.8,734.0 L1481.6,734.1 L1484.5,734.1 L1487.4,734.2 L1490.3,734.2 L1493.2,734.3 L1496.1,734.3 L1498.9,734.4 L1501.8,734.4 L1504.7,734.5 L1507.6,734.5 L1510.5,734.6 L1513.3,734.6 L1516.2,734.7 L1519.1,734.7 L1522.0,734.8 L1524.9,734.8 L1527.8,734.9 L1530.6,735.0 L1533.5,735.0 L1536.4,735.1 L1539.3,735.2 L1542.2,735.2 L1545.0,735.3 L1547.9,735.4 L1550.8,735.4 L1553.7,735.5 L1556.6,735.6 L1559.5,735.6 L1562.3,735.7 L1565.2,735.8 L1568.1,735.9 L1571.0,736.0 L1573.9,736.0 L1576.7,736.1 L1579.6,736.2 L1582.5,736.3 L1585.4,736.4 L1588.3,736.5 L1591.2,736.6 L1594.0,736.7 L1596.9,736.8 L1599.8,736.9 L1602.7,737.0 L1605.6,737.1 L1608.4,737.2 L1611.3,737.3 L1614.2,737.5 L1617.1,737.6 L1620.0,737.7 L1622.9,737.9 L1625.7,738.0 L1628.6,738.1 L1631.5,738.3 L1634.4,738.4 L1637.3,738.6 L1640.2,738.7 L1643.0,738.9 L1645.9,739.1 L1648.8,739.2 L1651.7,739.4 L1654.6,739.6 L1657.4,739.8 L1660.3,740.0 L1663.2,740.2 L1666.1,740.4 L1669.0,740.6 L1671.9,740.8 L1674.7,741.1 L1677.6,741.3 L1680.5,741.5 L1683.4,741.8 L1686.3,742.1 L1689.1,742.3 L1692.0,742.6 L1694.9,742.9 L1697.8,743.2 L1700.7,743.5 L1703.6,743.8 L1706.4,744.2 L1709.3,744.5 L1712.2,744.9 L1715.1,745.2 L1718.0,745.6 L1720.8,746.0 L1723.7,746.4 L1726.6,746.9 L1729.5,747.3 L1732.4,747.7 L1735.3,748.2 L1738.1,748.7 L1741.0,749.2 L1743.9,749.7 L1746.8,750.3 L1749.7,750.8 L1752.5,751.4 L1755.4,752.0 L1758.3,752.6 L1761.2,753.2 L1764.1,753.9 L1767.0,754.6 L1769.8,755.3 L1772.7,756.0 L1775.6,756.8 L1778.5,757.6 L1781.4,758.4 L1784.2,759.2 L1787.1,760.1 L1790.0,761.0 L1792.9,761.9 L1795.8,762.9 L1798.7,763.9 L1801.5,764.9 L1804.4,765.9 L1807.3,767.0 L1810.2,768.2 L1813.1,769.3 L1815.9,770.6 L1818.8,771.8 L1821.7,773.1 L1824.6,774.4 L1827.5,775.8 L1830.4,777.3 L1833.2,778.7 L1836.1,780.3 L1839.0,781.8 L1841.9,783.4 L1844.8,785.1 L1847.7,786.8 L1850.5,788.6 L1853.4,790.5 L1856.3,792.4 L1859.2,794.3 L1862.1,796.3 L1864.9,798.4 L1867.8,800.5 L1870.7,802.7 L1873.6,805.0 L1876.5,807.3 L1879.4,809.8 L1882.2,812.2 L1885.1,814.8 L1888.0,817.4 L1890.9,820.1 L1893.8,822.9 L1896.6,825.7 L1899.5,828.6 L1902.4,831.6 L1905.3,834.7 L1908.2,837.9 L1911.1,841.1 L1913.9,844.5 L1916.8,847.9 L1919.7,851.4 L1922.6,855.0 L1925.5,858.7 L1928.3,862.4 L1931.2,866.3 L1934.1,870.3 L1937.0,874.3 L1939.9,878.5 L1942.8,882.7 L1945.6,887.1 L1948.5,891.5 L1951.4,896.0 L1954.3,900.7 L1957.2,905.4 L1960.0,910.3 L1962.9,915.2 L1965.8,920.2 L1968.7,925.4 L1971.6,930.6 L1974.5,936.0 L1977.3,941.4 L1980.2,947.0 L1983.1,952.6 L1986.0,958.4 L1988.9,964.2 L1991.7,970.2 L1994.6,976.3 L1997.5,982.4 L2000.4,988.7 L2003.3,995.1 L2006.2,1001.6 L2009.0,1008.2 L2011.9,1014.8 L2014.8,1021.6 L2017.7,1028.5 L2020.6,1035.5 L2023.4,1042.6 L2026.3,1049.8 L2029.2,1057.1 L2032.1,1064.5 L2035.0,1072.0 L2037.9,1079.6 L2040.7,1087.3 L2043.6,1095.1 L2046.5,1103.0 L2049.4,1111.0 L2052.3,1119.1 L2055.1,1127.3 L2058.0,1135.6 L2060.9,1144.0 L2063.8,1152.4 L2066.7,1161.0 L2069.6,1169.7 L2072.4,1178.4 L2075.3,1187.2 L2078.2,1196.2 L2081.1,1205.2 L2084.0,1214.3 L2086.9,1223.5 L2089.7,1232.8 L2092.6,1242.1 L2095.5,1251.6 L2098.4,1261.1 L2101.3,1270.7 L2104.1,1280.4 L2107.0,1290.2 L2109.9,1300.0 L2112.8,1310.0 L2115.7,1320.0 L2118.6,1330.1" stroke="#b4b4f2" stroke-width="5.5" stroke-opacity="0.6"/><path d="M252.5,720.2 L281.2,720.6 L309.9,720.9 L338.6,721.2 L367.3,721.5 L396.0,721.8 L424.8,722.1 L453.5,722.4 L482.2,722.8 L510.9,723.1 L539.6,723.4 L568.3,723.7 L597.0,724.0 L625.7,724.3 L654.4,724.6 L683.1,724.9 L711.8,725.3 L740.5,725.6 L769.3,725.9 L798.0,726.2 L826.7,726.5 L855.4,726.8 L884.1,727.1 L912.8,727.4 L941.5,727.8 L970.2,728.1 L998.9,728.4 L1027.6,728.7 L1056.3,729.0 L1085.0,729.3 L1113.8,729.6 L1142.5,730.0 L1171.2,730.3 L1199.9,730.6 L1228.6,730.9 L1257.3,731.2 L1286.0,731.6 L1314.7,731.9 L1343.4,732.2 L1372.1,732.6 L1375.0,732.6 L1377.9,732.6 L1380.8,732.7 L1383.7,732.7 L1386.5,732.7 L1389.4,732.8 L1392.3,732.8 L1395.2,732.8 L1398.1,732.9 L1401.0,732.9 L1403.8,732.9 L1406.7,733.0 L1409.6,733.0 L1412.5,733.1 L1415.4,733.1 L1418.2,733.1 L1421.1,733.2 L1424.0,733.2 L1426.9,733.3 L1429.8,733.3 L1432.7,733.3 L1435.5,733.4 L1438.4,733.4 L1441.3,733.4 L1444.2,733.5 L1447.1,733.5 L1449.9,733.6 L1452.8,733.6 L1455.7,733.7 L1458.6,733.7 L1461.5,733.7 L1464.4,733.8 L1467.2,733.8 L1470.1,733.9 L1473.0,733.9 L1475.9,734.0 L1478.8,734.0 L1481.6,734.1 L1484.5,734.1 L1487.4,734.2 L1490.3,734.2 L1493.2,734.3 L1496.1,734.3 L1498.9,734.4 L1501.8,734.4 L1504.7,734.5 L1507.6,734.5 L1510.5,734.6 L1513.3,734.6 L1516.2,734.7 L1519.1,734.7 L1522.0,734.8 L1524.9,734.8 L1527.8,734.9 L1530.6,735.0 L1533.5,735.0 L1536.4,735.1 L1539.3,735.2 L1542.2,735.2 L1545.0,735.3 L1547.9,735.4 L1550.8,735.4 L1553.7,735.5 L1556.6,735.6 L1559.5,735.6 L1562.3,735.7 L1565.2,735.8 L1568.1,735.9 L1571.0,736.0 L1573.9,736.0 L1576.7,736.1 L1579.6,736.2 L1582.5,736.3 L1585.4,736.4 L1588.3,736.5 L1591.2,736.6 L1594.0,736.7 L1596.9,736.8 L1599.8,736.9 L1602.7,737.0 L1605.6,737.1 L1608.4,737.2 L1611.3,737.3 L1614.2,737.5 L1617.1,737.6 L1620.0,737.7 L1622.9,737.9 L1625.7,738.0 L1628.6,738.1 L1631.5,738.3 L1634.4,738.4 L1637.3,738.6 L1640.2,738.7 L1643.0,738.9 L1645.9,739.1 L1648.8,739.2 L1651.7,739.4 L1654.6,739.6 L1657.4,739.8 L1660.3,740.0 L1663.2,740.2 L1666.1,740.4 L1669.0,740.6 L1671.9,740.8 L1674.7,741.1 L1677.6,741.3 L1680.5,741.5 L1683.4,741.8 L1686.3,742.1 L1689.1,742.3 L1692.0,742.6 L1694.9,742.9 L1697.8,743.2 L1700.7,743.5 L1703.6,743.8 L1706.4,744.2 L1709.3,744.5 L1712.2,744.9 L1715.1,745.2 L1718.0,745.6 L1720.8,746.0 L1723.7,746.4 L1726.6,746.9 L1729.5,747.3 L1732.4,747.7 L1735.3,748.2 L1738.1,748.7 L1741.0,749.2 L1743.9,749.7 L1746.8,750.3 L1749.7,750.8 L1752.5,751.4 L1755.4,752.0 L1758.3,752.6 L1761.2,753.2 L1764.1,753.9 L1767.0,754.6 L1769.8,755.3 L1772.7,756.0 L1775.6,756.8 L1778.5,757.6 L1781.4,758.4 L1784.2,759.2 L1787.1,760.1 L1790.0,761.0 L1792.9,761.9 L1795.8,762.9 L1798.7,763.9 L1801.5,764.9 L1804.4,765.9 L1807.3,767.0 L1810.2,768.2 L1813.1,769.3 L1815.9,770.6 L1818.8,771.8 L1821.7,773.1 L1824.6,774.4 L1827.5,775.8 L1830.4,777.3 L1833.2,778.7 L1836.1,780.3 L1839.0,781.8 L1841.9,783.4 L1844.8,785.1 L1847.7,786.8 L1850.5,788.6 L1853.4,790.5 L1856.3,792.4 L1859.2,794.3 L1862.1,796.3 L1864.9,798.4 L1867.8,800.5 L1870.7,802.7 L1873.6,805.0 L1876.5,807.3 L1879.4,809.8 L1882.2,812.2 L1885.1,814.8 L1888.0,817.4 L1890.9,820.1 L1893.8,822.9 L1896.6,825.7 L1899.5,828.6 L1902.4,831.6 L1905.3,834.7 L1908.2,837.9 L1911.1,841.1 L1913.9,844.5 L1916.8,847.9 L1919.7,851.4 L1922.6,855.0 L1925.5,858.7 L1928.3,862.4 L1931.2,866.3 L1934.1,870.3 L1937.0,874.3 L1939.9,878.5 L1942.8,882.7 L1945.6,887.1 L1948.5,891.5 L1951.4,896.0 L1954.3,900.7 L1957.2,905.4 L1960.0,910.3 L1962.9,915.2 L1965.8,920.2 L1968.7,925.4 L1971.6,930.6 L1974.5,936.0 L1977.3,941.4 L1980.2,947.0 L1983.1,952.6 L1986.0,958.4 L1988.9,964.2 L1991.7,970.2 L1994.6,976.3 L1997.5,982.4 L2000.4,988.7 L2003.3,995.1 L2006.2,1001.6 L2009.0,1008.2 L2011.9,1014.8 L2014.8,1021.6 L2017.7,1028.5 L2020.6,1035.5 L2023.4,1042.6 L2026.3,1049.8 L2029.2,1057.1 L2032.1,1064.5 L2035.0,1072.0 L2037.9,1079.6 L2040.7,1087.3 L2043.6,1095.1 L2046.5,1103.0 L2049.4,1111.0 L2052.3,1119.1 L2055.1,1127.3 L2058.0,1135.6 L2060.9,1144.0 L2063.8,1152.4 L2066.7,1161.0 L2069.6,1169.7 L2072.4,1178.4 L2075.3,1187.2 L2078.2,1196.2 L2081.1,1205.2 L2084.0,1214.3 L2086.9,1223.5 L2089.7,1232.8 L2092.6,1242.1 L2095.5,1251.6 L2098.4,1261.1 L2101.3,1270.7 L2104.1,1280.4 L2107.0,1290.2 L2109.9,1300.0 L2112.8,1310.0 L2115.7,1320.0 L2118.6,1330.1" stroke="#181866" stroke-width="2.8"/>
<path d="M252.5,875.2 L280.9,875.5 L309.3,875.7 L337.7,875.9 L366.1,876.2 L394.5,876.4 L422.9,876.6 L451.4,876.9 L479.8,877.1 L508.2,877.4 L536.6,877.6 L565.0,877.8 L593.4,878.1 L621.8,878.3 L650.2,878.5 L678.6,878.8 L707.0,879.0 L735.4,879.2 L763.8,879.5 L792.2,879.7 L820.7,879.9 L849.1,880.2 L877.5,880.4 L905.9,880.6 L934.3,880.9 L962.7,881.1 L991.1,881.3 L1019.5,881.6 L1047.9,881.8 L1076.3,882.0 L1104.7,882.3 L1133.1,882.5 L1161.6,882.8 L1190.0,883.0 L1218.4,883.2 L1246.8,883.5 L1275.2,883.7 L1303.6,884.0 L1332.0,884.2 L1360.4,884.5 L1363.3,884.5 L1366.1,884.5 L1369.0,884.5 L1371.8,884.6 L1374.7,884.6 L1377.5,884.6 L1380.4,884.6 L1383.2,884.7 L1386.1,884.7 L1388.9,884.7 L1391.8,884.7 L1394.6,884.8 L1397.5,884.8 L1400.3,884.8 L1403.2,884.9 L1406.0,884.9 L1408.9,884.9 L1411.7,884.9 L1414.6,885.0 L1417.4,885.0 L1420.3,885.0 L1423.1,885.0 L1426.0,885.1 L1428.8,885.1 L1431.7,885.1 L1434.6,885.2 L1437.4,885.2 L1440.3,885.2 L1443.1,885.3 L1446.0,885.3 L1448.8,885.3 L1451.7,885.3 L1454.5,885.4 L1457.4,885.4 L1460.2,885.4 L1463.1,885.5 L1465.9,885.5 L1468.8,885.5 L1471.6,885.6 L1474.5,885.6 L1477.3,885.6 L1480.2,885.7 L1483.0,885.7 L1485.9,885.7 L1488.7,885.8 L1491.6,885.8 L1494.4,885.8 L1497.3,885.9 L1500.1,885.9 L1503.0,886.0 L1505.8,886.0 L1508.7,886.0 L1511.6,886.1 L1514.4,886.1 L1517.3,886.2 L1520.1,886.2 L1523.0,886.2 L1525.8,886.3 L1528.7,886.3 L1531.5,886.4 L1534.4,886.4 L1537.2,886.5 L1540.1,886.5 L1542.9,886.6 L1545.8,886.6 L1548.6,886.7 L1551.5,886.7 L1554.3,886.8 L1557.2,886.8 L1560.0,886.9 L1562.9,886.9 L1565.7,887.0 L1568.6,887.0 L1571.4,887.1 L1574.3,887.2 L1577.1,887.2 L1580.0,887.3 L1582.8,887.4 L1585.7,887.4 L1588.5,887.5 L1591.4,887.6 L1594.3,887.6 L1597.1,887.7 L1600.0,887.8 L1602.8,887.9 L1605.7,888.0 L1608.5,888.0 L1611.4,888.1 L1614.2,888.2 L1617.1,888.3 L1619.9,888.4 L1622.8,888.5 L1625.6,888.6 L1628.5,888.7 L1631.3,888.8 L1634.2,888.9 L1637.0,889.0 L1639.9,889.1 L1642.7,889.2 L1645.6,889.4 L1648.4,889.5 L1651.3,889.6 L1654.1,889.8 L1657.0,889.9 L1659.8,890.0 L1662.7,890.2 L1665.5,890.3 L1668.4,890.5 L1671.2,890.6 L1674.1,890.8 L1677.0,891.0 L1679.8,891.2 L1682.7,891.3 L1685.5,891.5 L1688.4,891.7 L1691.2,891.9 L1694.1,892.1 L1696.9,892.4 L1699.8,892.6 L1702.6,892.8 L1705.5,893.0 L1708.3,893.3 L1711.2,893.5 L1714.0,893.8 L1716.9,894.1 L1719.7,894.4 L1722.6,894.7 L1725.4,895.0 L1728.3,895.3 L1731.1,895.6 L1734.0,895.9 L1736.8,896.3 L1739.7,896.6 L1742.5,897.0 L1745.4,897.4 L1748.2,897.8 L1751.1,898.2 L1753.9,898.6 L1756.8,899.1 L1759.7,899.5 L1762.5,900.0 L1765.4,900.5 L1768.2,901.0 L1771.1,901.5 L1773.9,902.1 L1776.8,902.7 L1779.6,903.2 L1782.5,903.8 L1785.3,904.5 L1788.2,905.1 L1791.0,905.8 L1793.9,906.5 L1796.7,907.2 L1799.6,907.9 L1802.4,908.7 L1805.3,909.5 L1808.1,910.3 L1811.0,911.2 L1813.8,912.1 L1816.7,913.0 L1819.5,913.9 L1822.4,914.9 L1825.2,915.9 L1828.1,916.9 L1830.9,918.0 L1833.8,919.1 L1836.7,920.3 L1839.5,921.4 L1842.4,922.7 L1845.2,923.9 L1848.1,925.3 L1850.9,926.6 L1853.8,928.0 L1856.6,929.4 L1859.5,930.9 L1862.3,932.5 L1865.2,934.1 L1868.0,935.7 L1870.9,937.4 L1873.7,939.1 L1876.6,940.9 L1879.4,942.8 L1882.3,944.7 L1885.1,946.7 L1888.0,948.7 L1890.8,950.8 L1893.7,952.9 L1896.5,955.1 L1899.4,957.4 L1902.2,959.8 L1905.1,962.2 L1907.9,964.7 L1910.8,967.2 L1913.6,969.9 L1916.5,972.6 L1919.4,975.3 L1922.2,978.2 L1925.1,981.1 L1927.9,984.1 L1930.8,987.2 L1933.6,990.4 L1936.5,993.6 L1939.3,997.0 L1942.2,1000.4 L1945.0,1003.9 L1947.9,1007.5 L1950.7,1011.2 L1953.6,1015.0 L1956.4,1018.8 L1959.3,1022.8 L1962.1,1026.8 L1965.0,1031.0 L1967.8,1035.2 L1970.7,1039.5 L1973.5,1044.0 L1976.4,1048.5 L1979.2,1053.1 L1982.1,1057.8 L1984.9,1062.6 L1987.8,1067.6 L1990.6,1072.6 L1993.5,1077.7 L1996.3,1082.9 L1999.2,1088.2 L2002.1,1093.6 L2004.9,1099.1 L2007.8,1104.8 L2010.6,1110.5 L2013.5,1116.3 L2016.3,1122.2 L2019.2,1128.2 L2022.0,1134.4 L2024.9,1140.6 L2027.7,1146.9 L2030.6,1153.3 L2033.4,1159.9 L2036.3,1166.5 L2039.1,1173.2 L2042.0,1180.1 L2044.8,1187.0 L2047.7,1194.0 L2050.5,1201.2 L2053.4,1208.4 L2056.2,1215.7 L2059.1,1223.2 L2061.9,1230.7 L2064.8,1238.3 L2067.6,1246.0 L2070.5,1253.9 L2073.3,1261.8 L2076.2,1269.8 L2079.0,1277.9 L2081.9,1286.1 L2084.8,1294.4 L2087.6,1302.7 L2090.5,1311.2 L2093.3,1319.8 L2096.2,1328.4 L2099.0,1337.1" stroke="#b4b4f2" stroke-width="5.5" stroke-opacity="0.6"/><path d="M252.5,875.2 L280.9,875.5 L309.3,875.7 L337.7,875.9 L366.1,876.2 L394.5,876.4 L422.9,876.6 L451.4,876.9 L479.8,877.1 L508.2,877.4 L536.6,877.6 L565.0,877.8 L593.4,878.1 L621.8,878.3 L650.2,878.5 L678.6,878.8 L707.0,879.0 L735.4,879.2 L763.8,879.5 L792.2,879.7 L820.7,879.9 L849.1,880.2 L877.5,880.4 L905.9,880.6 L934.3,880.9 L962.7,881.1 L991.1,881.3 L1019.5,881.6 L1047.9,881.8 L1076.3,882.0 L1104.7,882.3 L1133.1,882.5 L1161.6,882.8 L1190.0,883.0 L1218.4,883.2 L1246.8,883.5 L1275.2,883.7 L1303.6,884.0 L1332.0,884.2 L1360.4,884.5 L1363.3,884.5 L1366.1,884.5 L1369.0,884.5 L1371.8,884.6 L1374.7,884.6 L1377.5,884.6 L1380.4,884.6 L1383.2,884.7 L1386.1,884.7 L1388.9,884.7 L1391.8,884.7 L1394.6,884.8 L1397.5,884.8 L1400.3,884.8 L1403.2,884.9 L1406.0,884.9 L1408.9,884.9 L1411.7,884.9 L1414.6,885.0 L1417.4,885.0 L1420.3,885.0 L1423.1,885.0 L1426.0,885.1 L1428.8,885.1 L1431.7,885.1 L1434.6,885.2 L1437.4,885.2 L1440.3,885.2 L1443.1,885.3 L1446.0,885.3 L1448.8,885.3 L1451.7,885.3 L1454.5,885.4 L1457.4,885.4 L1460.2,885.4 L1463.1,885.5 L1465.9,885.5 L1468.8,885.5 L1471.6,885.6 L1474.5,885.6 L1477.3,885.6 L1480.2,885.7 L1483.0,885.7 L1485.9,885.7 L1488.7,885.8 L1491.6,885.8 L1494.4,885.8 L1497.3,885.9 L1500.1,885.9 L1503.0,886.0 L1505.8,886.0 L1508.7,886.0 L1511.6,886.1 L1514.4,886.1 L1517.3,886.2 L1520.1,886.2 L1523.0,886.2 L1525.8,886.3 L1528.7,886.3 L1531.5,886.4 L1534.4,886.4 L1537.2,886.5 L1540.1,886.5 L1542.9,886.6 L1545.8,886.6 L1548.6,886.7 L1551.5,886.7 L1554.3,886.8 L1557.2,886.8 L1560.0,886.9 L1562.9,886.9 L1565.7,887.0 L1568.6,887.0 L1571.4,887.1 L1574.3,887.2 L1577.1,887.2 L1580.0,887.3 L1582.8,887.4 L1585.7,887.4 L1588.5,887.5 L1591.4,887.6 L1594.3,887.6 L1597.1,887.7 L1600.0,887.8 L1602.8,887.9 L1605.7,888.0 L1608.5,888.0 L1611.4,888.1 L1614.2,888.2 L1617.1,888.3 L1619.9,888.4 L1622.8,888.5 L1625.6,888.6 L1628.5,888.7 L1631.3,888.8 L1634.2,888.9 L1637.0,889.0 L1639.9,889.1 L1642.7,889.2 L1645.6,889.4 L1648.4,889.5 L1651.3,889.6 L1654.1,889.8 L1657.0,889.9 L1659.8,890.0 L1662.7,890.2 L1665.5,890.3 L1668.4,890.5 L1671.2,890.6 L1674.1,890.8 L1677.0,891.0 L1679.8,891.2 L1682.7,891.3 L1685.5,891.5 L1688.4,891.7 L1691.2,891.9 L1694.1,892.1 L1696.9,892.4 L1699.8,892.6 L1702.6,892.8 L1705.5,893.0 L1708.3,893.3 L1711.2,893.5 L1714.0,893.8 L1716.9,894.1 L1719.7,894.4 L1722.6,894.7 L1725.4,895.0 L1728.3,895.3 L1731.1,895.6 L1734.0,895.9 L1736.8,896.3 L1739.7,896.6 L1742.5,897.0 L1745.4,897.4 L1748.2,897.8 L1751.1,898.2 L1753.9,898.6 L1756.8,899.1 L1759.7,899.5 L1762.5,900.0 L1765.4,900.5 L1768.2,901.0 L1771.1,901.5 L1773.9,902.1 L1776.8,902.7 L1779.6,903.2 L1782.5,903.8 L1785.3,904.5 L1788.2,905.1 L1791.0,905.8 L1793.9,906.5 L1796.7,907.2 L1799.6,907.9 L1802.4,908.7 L1805.3,909.5 L1808.1,910.3 L1811.0,911.2 L1813.8,912.1 L1816.7,913.0 L1819.5,913.9 L1822.4,914.9 L1825.2,915.9 L1828.1,916.9 L1830.9,918.0 L1833.8,919.1 L1836.7,920.3 L1839.5,921.4 L1842.4,922.7 L1845.2,923.9 L1848.1,925.3 L1850.9,926.6 L1853.8,928.0 L1856.6,929.4 L1859.5,930.9 L1862.3,932.5 L1865.2,934.1 L1868.0,935.7 L1870.9,937.4 L1873.7,939.1 L1876.6,940.9 L1879.4,942.8 L1882.3,944.7 L1885.1,946.7 L1888.0,948.7 L1890.8,950.8 L1893.7,952.9 L1896.5,955.1 L1899.4,957.4 L1902.2,959.8 L1905.1,962.2 L1907.9,964.7 L1910.8,967.2 L1913.6,969.9 L1916.5,972.6 L1919.4,975.3 L1922.2,978.2 L1925.1,981.1 L1927.9,984.1 L1930.8,987.2 L1933.6,990.4 L1936.5,993.6 L1939.3,997.0 L1942.2,1000.4 L1945.0,1003.9 L1947.9,1007.5 L1950.7,1011.2 L1953.6,1015.0 L1956.4,1018.8 L1959.3,1022.8 L1962.1,1026.8 L1965.0,1031.0 L1967.8,1035.2 L1970.7,1039.5 L1973.5,1044.0 L1976.4,1048.5 L1979.2,1053.1 L1982.1,1057.8 L1984.9,1062.6 L1987.8,1067.6 L1990.6,1072.6 L1993.5,1077.7 L1996.3,1082.9 L1999.2,1088.2 L2002.1,1093.6 L2004.9,1099.1 L2007.8,1104.8 L2010.6,1110.5 L2013.5,1116.3 L2016.3,1122.2 L2019.2,1128.2 L2022.0,1134.4 L2024.9,1140.6 L2027.7,1146.9 L2030.6,1153.3 L2033.4,1159.9 L2036.3,1166.5 L2039.1,1173.2 L2042.0,1180.1 L2044.8,1187.0 L2047.7,1194.0 L2050.5,1201.2 L2053.4,1208.4 L2056.2,1215.7 L2059.1,1223.2 L2061.9,1230.7 L2064.8,1238.3 L2067.6,1246.0 L2070.5,1253.9 L2073.3,1261.8 L2076.2,1269.8 L2079.0,1277.9 L2081.9,1286.1 L2084.8,1294.4 L2087.6,1302.7 L2090.5,1311.2 L2093.3,1319.8 L2096.2,1328.4 L2099.0,1337.1" stroke="#181866" stroke-width="2.8"/>
<path d="M252.5,1030.4 L280.5,1030.5 L308.4,1030.7 L336.4,1030.8 L364.4,1031.0 L392.3,1031.1 L420.3,1031.3 L448.2,1031.5 L476.2,1031.6 L504.2,1031.8 L532.1,1031.9 L560.1,1032.1 L588.1,1032.2 L616.0,1032.4 L644.0,1032.5 L672.0,1032.7 L699.9,1032.9 L727.9,1033.0 L755.8,1033.2 L783.8,1033.3 L811.8,1033.5 L839.7,1033.6 L867.7,1033.8 L895.7,1034.0 L923.6,1034.1 L951.6,1034.3 L979.5,1034.4 L1007.5,1034.6 L1035.5,1034.7 L1063.4,1034.9 L1091.4,1035.0 L1119.4,1035.2 L1147.3,1035.4 L1175.3,1035.5 L1203.3,1035.7 L1231.2,1035.8 L1259.2,1036.0 L1287.1,1036.2 L1315.1,1036.3 L1343.1,1036.5 L1345.9,1036.5 L1348.7,1036.5 L1351.5,1036.5 L1354.3,1036.6 L1357.1,1036.6 L1359.9,1036.6 L1362.7,1036.6 L1365.5,1036.6 L1368.3,1036.6 L1371.1,1036.7 L1374.0,1036.7 L1376.8,1036.7 L1379.6,1036.7 L1382.4,1036.7 L1385.2,1036.7 L1388.0,1036.8 L1390.8,1036.8 L1393.6,1036.8 L1396.4,1036.8 L1399.2,1036.8 L1402.0,1036.9 L1404.8,1036.9 L1407.6,1036.9 L1410.4,1036.9 L1413.3,1036.9 L1416.1,1036.9 L1418.9,1037.0 L1421.7,1037.0 L1424.5,1037.0 L1427.3,1037.0 L1430.1,1037.0 L1432.9,1037.1 L1435.7,1037.1 L1438.5,1037.1 L1441.3,1037.1 L1444.1,1037.1 L1446.9,1037.2 L1449.7,1037.2 L1452.5,1037.2 L1455.4,1037.2 L1458.2,1037.3 L1461.0,1037.3 L1463.8,1037.3 L1466.6,1037.3 L1469.4,1037.3 L1472.2,1037.4 L1475.0,1037.4 L1477.8,1037.4 L1480.6,1037.4 L1483.4,1037.5 L1486.2,1037.5 L1489.0,1037.5 L1491.8,1037.5 L1494.7,1037.6 L1497.5,1037.6 L1500.3,1037.6 L1503.1,1037.6 L1505.9,1037.7 L1508.7,1037.7 L1511.5,1037.7 L1514.3,1037.7 L1517.1,1037.8 L1519.9,1037.8 L1522.7,1037.8 L1525.5,1037.9 L1528.3,1037.9 L1531.1,1037.9 L1534.0,1037.9 L1536.8,1038.0 L1539.6,1038.0 L1542.4,1038.0 L1545.2,1038.1 L1548.0,1038.1 L1550.8,1038.1 L1553.6,1038.2 L1556.4,1038.2 L1559.2,1038.3 L1562.0,1038.3 L1564.8,1038.3 L1567.6,1038.4 L1570.4,1038.4 L1573.3,1038.5 L1576.1,1038.5 L1578.9,1038.5 L1581.7,1038.6 L1584.5,1038.6 L1587.3,1038.7 L1590.1,1038.7 L1592.9,1038.8 L1595.7,1038.8 L1598.5,1038.9 L1601.3,1038.9 L1604.1,1039.0 L1606.9,1039.1 L1609.7,1039.1 L1612.6,1039.2 L1615.4,1039.2 L1618.2,1039.3 L1621.0,1039.4 L1623.8,1039.4 L1626.6,1039.5 L1629.4,1039.6 L1632.2,1039.7 L1635.0,1039.7 L1637.8,1039.8 L1640.6,1039.9 L1643.4,1040.0 L1646.2,1040.1 L1649.0,1040.1 L1651.9,1040.2 L1654.7,1040.3 L1657.5,1040.4 L1660.3,1040.5 L1663.1,1040.6 L1665.9,1040.7 L1668.7,1040.9 L1671.5,1041.0 L1674.3,1041.1 L1677.1,1041.2 L1679.9,1041.3 L1682.7,1041.5 L1685.5,1041.6 L1688.3,1041.7 L1691.2,1041.9 L1694.0,1042.0 L1696.8,1042.2 L1699.6,1042.3 L1702.4,1042.5 L1705.2,1042.7 L1708.0,1042.9 L1710.8,1043.0 L1713.6,1043.2 L1716.4,1043.4 L1719.2,1043.6 L1722.0,1043.8 L1724.8,1044.0 L1727.6,1044.3 L1730.5,1044.5 L1733.3,1044.7 L1736.1,1045.0 L1738.9,1045.2 L1741.7,1045.5 L1744.5,1045.8 L1747.3,1046.1 L1750.1,1046.3 L1752.9,1046.7 L1755.7,1047.0 L1758.5,1047.3 L1761.3,1047.6 L1764.1,1048.0 L1766.9,1048.3 L1769.8,1048.7 L1772.6,1049.1 L1775.4,1049.5 L1778.2,1049.9 L1781.0,1050.3 L1783.8,1050.8 L1786.6,1051.3 L1789.4,1051.7 L1792.2,1052.2 L1795.0,1052.7 L1797.8,1053.3 L1800.6,1053.8 L1803.4,1054.4 L1806.2,1055.0 L1809.1,1055.6 L1811.9,1056.2 L1814.7,1056.8 L1817.5,1057.5 L1820.3,1058.2 L1823.1,1058.9 L1825.9,1059.7 L1828.7,1060.4 L1831.5,1061.2 L1834.3,1062.1 L1837.1,1062.9 L1839.9,1063.8 L1842.7,1064.7 L1845.5,1065.7 L1848.4,1066.6 L1851.2,1067.6 L1854.0,1068.7 L1856.8,1069.8 L1859.6,1070.9 L1862.4,1072.0 L1865.2,1073.2 L1868.0,1074.4 L1870.8,1075.7 L1873.6,1077.0 L1876.4,1078.3 L1879.2,1079.7 L1882.0,1081.2 L1884.8,1082.7 L1887.7,1084.2 L1890.5,1085.8 L1893.3,1087.4 L1896.1,1089.1 L1898.9,1090.8 L1901.7,1092.6 L1904.5,1094.4 L1907.3,1096.3 L1910.1,1098.3 L1912.9,1100.3 L1915.7,1102.4 L1918.5,1104.5 L1921.3,1106.7 L1924.1,1109.0 L1927.0,1111.3 L1929.8,1113.7 L1932.6,1116.1 L1935.4,1118.7 L1938.2,1121.3 L1941.0,1123.9 L1943.8,1126.7 L1946.6,1129.5 L1949.4,1132.4 L1952.2,1135.3 L1955.0,1138.4 L1957.8,1141.5 L1960.6,1144.7 L1963.4,1148.0 L1966.3,1151.4 L1969.1,1154.8 L1971.9,1158.4 L1974.7,1162.0 L1977.5,1165.7 L1980.3,1169.5 L1983.1,1173.4 L1985.9,1177.4 L1988.7,1181.4 L1991.5,1185.6 L1994.3,1189.8 L1997.1,1194.2 L1999.9,1198.6 L2002.7,1203.1 L2005.6,1207.8 L2008.4,1212.5 L2011.2,1217.3 L2014.0,1222.2 L2016.8,1227.2 L2019.6,1232.3 L2022.4,1237.5 L2025.2,1242.8 L2028.0,1248.2 L2030.8,1253.7 L2033.6,1259.3 L2036.4,1265.0 L2039.2,1270.8 L2042.0,1276.7 L2044.9,1282.7 L2047.7,1288.8 L2050.5,1294.9 L2053.3,1301.2 L2056.1,1307.6 L2058.9,1314.1 L2061.7,1320.7 L2064.5,1327.4 L2067.3,1334.1 L2070.1,1341.0" stroke="#b4b4f2" stroke-width="5.5" stroke-opacity="0.6"/><path d="M252.5,1030.4 L280.5,1030.5 L308.4,1030.7 L336.4,1030.8 L364.4,1031.0 L392.3,1031.1 L420.3,1031.3 L448.2,1031.5 L476.2,1031.6 L504.2,1031.8 L532.1,1031.9 L560.1,1032.1 L588.1,1032.2 L616.0,1032.4 L644.0,1032.5 L672.0,1032.7 L699.9,1032.9 L727.9,1033.0 L755.8,1033.2 L783.8,1033.3 L811.8,1033.5 L839.7,1033.6 L867.7,1033.8 L895.7,1034.0 L923.6,1034.1 L951.6,1034.3 L979.5,1034.4 L1007.5,1034.6 L1035.5,1034.7 L1063.4,1034.9 L1091.4,1035.0 L1119.4,1035.2 L1147.3,1035.4 L1175.3,1035.5 L1203.3,1035.7 L1231.2,1035.8 L1259.2,1036.0 L1287.1,1036.2 L1315.1,1036.3 L1343.1,1036.5 L1345.9,1036.5 L1348.7,1036.5 L1351.5,1036.5 L1354.3,1036.6 L1357.1,1036.6 L1359.9,1036.6 L1362.7,1036.6 L1365.5,1036.6 L1368.3,1036.6 L1371.1,1036.7 L1374.0,1036.7 L1376.8,1036.7 L1379.6,1036.7 L1382.4,1036.7 L1385.2,1036.7 L1388.0,1036.8 L1390.8,1036.8 L1393.6,1036.8 L1396.4,1036.8 L1399.2,1036.8 L1402.0,1036.9 L1404.8,1036.9 L1407.6,1036.9 L1410.4,1036.9 L1413.3,1036.9 L1416.1,1036.9 L1418.9,1037.0 L1421.7,1037.0 L1424.5,1037.0 L1427.3,1037.0 L1430.1,1037.0 L1432.9,1037.1 L1435.7,1037.1 L1438.5,1037.1 L1441.3,1037.1 L1444.1,1037.1 L1446.9,1037.2 L1449.7,1037.2 L1452.5,1037.2 L1455.4,1037.2 L1458.2,1037.3 L1461.0,1037.3 L1463.8,1037.3 L1466.6,1037.3 L1469.4,1037.3 L1472.2,1037.4 L1475.0,1037.4 L1477.8,1037.4 L1480.6,1037.4 L1483.4,1037.5 L1486.2,1037.5 L1489.0,1037.5 L1491.8,1037.5 L1494.7,1037.6 L1497.5,1037.6 L1500.3,1037.6 L1503.1,1037.6 L1505.9,1037.7 L1508.7,1037.7 L1511.5,1037.7 L1514.3,1037.7 L1517.1,1037.8 L1519.9,1037.8 L1522.7,1037.8 L1525.5,1037.9 L1528.3,1037.9 L1531.1,1037.9 L1534.0,1037.9 L1536.8,1038.0 L1539.6,1038.0 L1542.4,1038.0 L1545.2,1038.1 L1548.0,1038.1 L1550.8,1038.1 L1553.6,1038.2 L1556.4,1038.2 L1559.2,1038.3 L1562.0,1038.3 L1564.8,1038.3 L1567.6,1038.4 L1570.4,1038.4 L1573.3,1038.5 L1576.1,1038.5 L1578.9,1038.5 L1581.7,1038.6 L1584.5,1038.6 L1587.3,1038.7 L1590.1,1038.7 L1592.9,1038.8 L1595.7,1038.8 L1598.5,1038.9 L1601.3,1038.9 L1604.1,1039.0 L1606.9,1039.1 L1609.7,1039.1 L1612.6,1039.2 L1615.4,1039.2 L1618.2,1039.3 L1621.0,1039.4 L1623.8,1039.4 L1626.6,1039.5 L1629.4,1039.6 L1632.2,1039.7 L1635.0,1039.7 L1637.8,1039.8 L1640.6,1039.9 L1643.4,1040.0 L1646.2,1040.1 L1649.0,1040.1 L1651.9,1040.2 L1654.7,1040.3 L1657.5,1040.4 L1660.3,1040.5 L1663.1,1040.6 L1665.9,1040.7 L1668.7,1040.9 L1671.5,1041.0 L1674.3,1041.1 L1677.1,1041.2 L1679.9,1041.3 L1682.7,1041.5 L1685.5,1041.6 L1688.3,1041.7 L1691.2,1041.9 L1694.0,1042.0 L1696.8,1042.2 L1699.6,1042.3 L1702.4,1042.5 L1705.2,1042.7 L1708.0,1042.9 L1710.8,1043.0 L1713.6,1043.2 L1716.4,1043.4 L1719.2,1043.6 L1722.0,1043.8 L1724.8,1044.0 L1727.6,1044.3 L1730.5,1044.5 L1733.3,1044.7 L1736.1,1045.0 L1738.9,1045.2 L1741.7,1045.5 L1744.5,1045.8 L1747.3,1046.1 L1750.1,1046.3 L1752.9,1046.7 L1755.7,1047.0 L1758.5,1047.3 L1761.3,1047.6 L1764.1,1048.0 L1766.9,1048.3 L1769.8,1048.7 L1772.6,1049.1 L1775.4,1049.5 L1778.2,1049.9 L1781.0,1050.3 L1783.8,1050.8 L1786.6,1051.3 L1789.4,1051.7 L1792.2,1052.2 L1795.0,1052.7 L1797.8,1053.3 L1800.6,1053.8 L1803.4,1054.4 L1806.2,1055.0 L1809.1,1055.6 L1811.9,1056.2 L1814.7,1056.8 L1817.5,1057.5 L1820.3,1058.2 L1823.1,1058.9 L1825.9,1059.7 L1828.7,1060.4 L1831.5,1061.2 L1834.3,1062.1 L1837.1,1062.9 L1839.9,1063.8 L1842.7,1064.7 L1845.5,1065.7 L1848.4,1066.6 L1851.2,1067.6 L1854.0,1068.7 L1856.8,1069.8 L1859.6,1070.9 L1862.4,1072.0 L1865.2,1073.2 L1868.0,1074.4 L1870.8,1075.7 L1873.6,1077.0 L1876.4,1078.3 L1879.2,1079.7 L1882.0,1081.2 L1884.8,1082.7 L1887.7,1084.2 L1890.5,1085.8 L1893.3,1087.4 L1896.1,1089.1 L1898.9,1090.8 L1901.7,1092.6 L1904.5,1094.4 L1907.3,1096.3 L1910.1,1098.3 L1912.9,1100.3 L1915.7,1102.4 L1918.5,1104.5 L1921.3,1106.7 L1924.1,1109.0 L1927.0,1111.3 L1929.8,1113.7 L1932.6,1116.1 L1935.4,1118.7 L1938.2,1121.3 L1941.0,1123.9 L1943.8,1126.7 L1946.6,1129.5 L1949.4,1132.4 L1952.2,1135.3 L1955.0,1138.4 L1957.8,1141.5 L1960.6,1144.7 L1963.4,1148.0 L1966.3,1151.4 L1969.1,1154.8 L1971.9,1158.4 L1974.7,1162.0 L1977.5,1165.7 L1980.3,1169.5 L1983.1,1173.4 L1985.9,1177.4 L1988.7,1181.4 L1991.5,1185.6 L1994.3,1189.8 L1997.1,1194.2 L1999.9,1198.6 L2002.7,1203.1 L2005.6,1207.8 L2008.4,1212.5 L2011.2,1217.3 L2014.0,1222.2 L2016.8,1227.2 L2019.6,1232.3 L2022.4,1237.5 L2025.2,1242.8 L2028.0,1248.2 L2030.8,1253.7 L2033.6,1259.3 L2036.4,1265.0 L2039.2,1270.8 L2042.0,1276.7 L2044.9,1282.7 L2047.7,1288.8 L2050.5,1294.9 L2053.3,1301.2 L2056.1,1307.6 L2058.9,1314.1 L2061.7,1320.7 L2064.5,1327.4 L2067.3,1334.1 L2070.1,1341.0" stroke="#181866" stroke-width="2.8"/>
</g>
<text x="379" y="556.6" font-size="60" fill="#a82a2a" stroke="#ffffff" stroke-width="1.1">1 kW/m<tspan dx="-1" dy="-29" font-size="46">2</tspan></text>
<text x="378.5" y="714" font-size="60" fill="#000" stroke="#ffffff" stroke-width="1.1">0.8 kW/m<tspan dx="-1" dy="-29" font-size="46">2</tspan></text>
<text x="378.5" y="869" font-size="60" fill="#000" stroke="#ffffff" stroke-width="1.1">0.6 kW/m<tspan dx="-1" dy="-29" font-size="46">2</tspan></text>
<text x="378.5" y="1024.1" font-size="60" fill="#000" stroke="#ffffff" stroke-width="1.1">0.4 kW/m<tspan dx="-1" dy="-29" font-size="46">2</tspan></text>
<g fill="none" stroke-linejoin="round" stroke-linecap="butt">
<path d="M256.1,2924.0 L285.1,2910.1 L314.0,2896.2 L342.9,2882.3 L371.9,2868.4 L400.8,2854.6 L429.8,2840.7 L458.7,2826.9 L487.7,2813.1 L516.6,2799.3 L545.5,2785.5 L574.5,2771.7 L603.4,2758.0 L632.4,2744.2 L661.3,2730.5 L690.3,2716.8 L719.2,2703.1 L748.1,2689.4 L777.1,2675.7 L806.0,2662.1 L835.0,2648.4 L863.9,2634.8 L892.8,2621.2 L921.8,2607.6 L950.7,2594.0 L979.7,2580.4 L1008.6,2566.8 L1037.6,2553.3 L1066.5,2539.7 L1095.4,2526.2 L1124.4,2512.7 L1153.3,2499.2 L1182.3,2485.8 L1211.2,2472.3 L1240.2,2458.8 L1269.1,2445.4 L1298.0,2432.0 L1327.0,2418.6 L1355.9,2405.2 L1384.9,2391.9 L1387.8,2390.6 L1390.7,2389.2 L1393.6,2387.9 L1396.5,2386.6 L1399.4,2385.2 L1402.3,2383.9 L1405.2,2382.5 L1408.1,2381.2 L1411.0,2379.9 L1413.9,2378.5 L1416.8,2377.2 L1419.7,2375.9 L1422.6,2374.5 L1425.5,2373.2 L1428.4,2371.9 L1431.3,2370.5 L1434.2,2369.2 L1437.1,2367.9 L1440.1,2366.5 L1443.0,2365.2 L1445.9,2363.9 L1448.8,2362.6 L1451.7,2361.2 L1454.6,2359.9 L1457.5,2358.6 L1460.4,2357.3 L1463.3,2355.9 L1466.2,2354.6 L1469.1,2353.3 L1472.0,2352.0 L1474.9,2350.6 L1477.8,2349.3 L1480.7,2348.0 L1483.6,2346.7 L1486.5,2345.4 L1489.4,2344.0 L1492.3,2342.7 L1495.2,2341.4 L1498.1,2340.1 L1501.0,2338.8 L1503.9,2337.5 L1506.8,2336.1 L1509.8,2334.8 L1512.7,2333.5 L1515.6,2332.2 L1518.5,2330.9 L1521.4,2329.6 L1524.3,2328.3 L1527.2,2327.0 L1530.1,2325.7 L1533.0,2324.4 L1535.9,2323.1 L1538.8,2321.8 L1541.7,2320.5 L1544.6,2319.2 L1547.5,2317.9 L1550.4,2316.6 L1553.3,2315.4 L1556.2,2314.1 L1559.1,2312.8 L1562.0,2311.5 L1564.9,2310.2 L1567.8,2309.0 L1570.7,2307.7 L1573.6,2306.4 L1576.5,2305.1 L1579.4,2303.9 L1582.3,2302.6 L1585.2,2301.4 L1588.1,2300.1 L1591.0,2298.9 L1593.9,2297.6 L1596.8,2296.4 L1599.7,2295.1 L1602.6,2293.9 L1605.5,2292.7 L1608.4,2291.4 L1611.3,2290.2 L1614.2,2289.0 L1617.1,2287.8 L1620.0,2286.6 L1622.9,2285.4 L1625.8,2284.2 L1628.7,2283.0 L1631.6,2281.8 L1634.4,2280.6 L1637.3,2279.4 L1640.2,2278.3 L1643.1,2277.1 L1646.0,2275.9 L1648.9,2274.8 L1651.8,2273.6 L1654.7,2272.5 L1657.6,2271.4 L1660.5,2270.3 L1663.4,2269.2 L1666.2,2268.1 L1669.1,2267.0 L1672.0,2265.9 L1674.9,2264.8 L1677.8,2263.8 L1680.7,2262.7 L1683.5,2261.7 L1686.4,2260.7 L1689.3,2259.7 L1692.2,2258.7 L1695.1,2257.7 L1697.9,2256.7 L1700.8,2255.7 L1703.7,2254.8 L1706.5,2253.9 L1709.4,2253.0 L1712.3,2252.1 L1715.1,2251.2 L1718.0,2250.3 L1720.9,2249.5 L1723.7,2248.7 L1726.6,2247.9 L1729.4,2247.1 L1732.3,2246.3 L1735.1,2245.6 L1738.0,2244.9 L1740.8,2244.2 L1743.7,2243.5 L1746.5,2242.9 L1749.3,2242.2 L1752.2,2241.6 L1755.0,2241.1 L1757.8,2240.5 L1760.6,2240.0 L1763.5,2239.5 L1766.3,2239.1 L1769.1,2238.7 L1771.9,2238.3 L1774.7,2237.9 L1777.5,2237.6 L1780.3,2237.3 L1783.1,2237.1 L1785.9,2236.9 L1788.6,2236.7 L1791.4,2236.6 L1794.2,2236.5 L1797.0,2236.4 L1799.7,2236.4 L1802.5,2236.5 L1805.2,2236.5 L1808.0,2236.7 L1810.7,2236.8 L1813.5,2237.1 L1816.2,2237.3 L1818.9,2237.7 L1821.7,2238.0 L1824.4,2238.5 L1827.1,2238.9 L1829.9,2239.5 L1832.6,2240.1 L1835.3,2240.7 L1838.0,2241.4 L1840.8,2242.2 L1843.5,2243.0 L1846.2,2244.0 L1849.0,2244.9 L1851.7,2246.0 L1854.5,2247.1 L1857.2,2248.3 L1860.0,2249.6 L1862.7,2250.9 L1865.5,2252.3 L1868.3,2253.9 L1871.1,2255.5 L1873.9,2257.2 L1876.7,2259.0 L1879.5,2260.8 L1882.3,2262.8 L1885.1,2264.9 L1887.9,2267.1 L1890.8,2269.3 L1893.6,2271.7 L1896.5,2274.2 L1899.3,2276.8 L1902.2,2279.6 L1904.9,2282.5 L1907.7,2285.6 L1910.5,2288.7 L1913.2,2292.0 L1916.0,2295.4 L1918.8,2298.9 L1921.6,2302.5 L1924.4,2306.3 L1927.1,2310.1 L1929.9,2314.1 L1932.7,2318.2 L1935.6,2322.5 L1938.4,2326.8 L1941.2,2331.3 L1944.0,2335.9 L1946.8,2340.7 L1949.6,2345.6 L1952.5,2350.6 L1955.3,2355.7 L1958.1,2361.0 L1961.0,2366.4 L1963.8,2372.0 L1966.7,2377.6 L1969.5,2383.5 L1972.4,2389.4 L1975.2,2395.5 L1978.1,2401.7 L1981.0,2408.1 L1983.8,2414.6 L1986.7,2421.2 L1989.5,2428.0 L1992.4,2435.0 L1995.3,2442.0 L1998.2,2449.2 L2001.0,2456.6 L2003.9,2464.0 L2006.8,2471.6 L2009.6,2479.4 L2012.5,2487.3 L2015.4,2495.3 L2018.3,2503.5 L2021.2,2511.8 L2024.1,2520.3 L2026.9,2528.8 L2029.8,2537.6 L2032.7,2546.4 L2035.6,2555.4 L2038.5,2564.5 L2041.4,2573.8 L2044.3,2583.2 L2047.1,2592.7 L2050.0,2602.4 L2052.9,2612.2 L2055.8,2622.1 L2058.7,2632.2 L2061.6,2642.4 L2064.5,2652.7 L2067.4,2663.2 L2070.3,2673.8 L2073.2,2684.5 L2076.1,2695.3 L2079.0,2706.3 L2081.9,2717.4 L2084.8,2728.7 L2087.6,2740.0 L2090.5,2751.5 L2093.4,2763.1 L2096.3,2774.8 L2099.2,2786.7 L2102.1,2798.7 L2105.0,2810.8 L2107.9,2823.0 L2110.8,2835.4 L2113.7,2847.8 L2116.6,2860.4 L2119.5,2873.1 L2122.4,2886.0 L2125.3,2898.9 L2142.5,2895.1 L2139.6,2882.1 L2136.7,2869.2 L2133.8,2856.5 L2130.9,2843.9 L2127.9,2831.4 L2125.0,2819.0 L2122.1,2806.7 L2119.2,2794.6 L2116.3,2782.6 L2113.4,2770.7 L2110.5,2758.9 L2107.5,2747.2 L2104.6,2735.7 L2101.7,2724.3 L2098.8,2713.0 L2095.9,2701.9 L2093.0,2690.9 L2090.1,2680.0 L2087.1,2669.2 L2084.2,2658.6 L2081.3,2648.0 L2078.4,2637.7 L2075.5,2627.4 L2072.5,2617.3 L2069.6,2607.3 L2066.7,2597.4 L2063.8,2587.7 L2060.9,2578.1 L2057.9,2568.7 L2055.0,2559.3 L2052.1,2550.1 L2049.2,2541.1 L2046.2,2532.2 L2043.3,2523.4 L2040.4,2514.7 L2037.5,2506.2 L2034.5,2497.8 L2031.6,2489.6 L2028.7,2481.4 L2025.7,2473.5 L2022.8,2465.6 L2019.9,2457.9 L2016.9,2450.4 L2014.0,2442.9 L2011.0,2435.6 L2008.1,2428.5 L2005.2,2421.5 L2002.2,2414.6 L1999.3,2407.8 L1996.3,2401.2 L1993.4,2394.7 L1990.4,2388.4 L1987.4,2382.2 L1984.5,2376.1 L1981.5,2370.2 L1978.6,2364.4 L1975.6,2358.7 L1972.6,2353.2 L1969.6,2347.8 L1966.7,2342.5 L1963.7,2337.4 L1960.7,2332.4 L1957.7,2327.5 L1954.7,2322.8 L1951.7,2318.2 L1948.7,2313.7 L1945.7,2309.3 L1942.7,2305.1 L1939.7,2301.0 L1936.7,2297.0 L1933.7,2293.1 L1930.6,2289.4 L1927.6,2285.8 L1924.6,2282.3 L1921.5,2278.9 L1918.5,2275.7 L1915.4,2272.5 L1912.4,2269.5 L1909.4,2266.5 L1906.4,2263.6 L1903.5,2260.7 L1900.5,2258.0 L1897.5,2255.4 L1894.6,2252.9 L1891.6,2250.5 L1888.6,2248.2 L1885.6,2246.0 L1882.6,2243.9 L1879.6,2241.9 L1876.5,2239.9 L1873.5,2238.1 L1870.5,2236.4 L1867.4,2234.7 L1864.4,2233.2 L1861.3,2231.7 L1858.2,2230.3 L1855.2,2229.0 L1852.1,2227.8 L1849.0,2226.7 L1845.9,2225.7 L1842.9,2224.7 L1839.8,2223.8 L1836.7,2223.0 L1833.6,2222.3 L1830.5,2221.6 L1827.4,2221.0 L1824.4,2220.5 L1821.3,2220.0 L1818.2,2219.6 L1815.1,2219.3 L1812.1,2219.0 L1809.0,2218.8 L1805.9,2218.7 L1802.9,2218.6 L1799.8,2218.5 L1796.8,2218.5 L1793.7,2218.6 L1790.7,2218.7 L1787.6,2218.9 L1784.6,2219.1 L1781.6,2219.3 L1778.6,2219.6 L1775.5,2219.9 L1772.5,2220.3 L1769.5,2220.7 L1766.5,2221.1 L1763.5,2221.6 L1760.5,2222.1 L1757.5,2222.6 L1754.5,2223.2 L1751.5,2223.7 L1748.6,2224.4 L1745.6,2225.0 L1742.6,2225.7 L1739.6,2226.4 L1736.7,2227.1 L1733.7,2227.9 L1730.7,2228.6 L1727.8,2229.4 L1724.8,2230.2 L1721.9,2231.1 L1718.9,2231.9 L1715.9,2232.8 L1713.0,2233.7 L1710.0,2234.6 L1707.1,2235.5 L1704.2,2236.5 L1701.2,2237.4 L1698.3,2238.4 L1695.3,2239.4 L1692.4,2240.4 L1689.5,2241.4 L1686.5,2242.4 L1683.6,2243.4 L1680.7,2244.5 L1677.7,2245.5 L1674.8,2246.6 L1671.9,2247.7 L1668.9,2248.8 L1666.0,2249.9 L1663.1,2251.0 L1660.2,2252.1 L1657.2,2253.2 L1654.3,2254.4 L1651.4,2255.5 L1648.5,2256.6 L1645.5,2257.8 L1642.6,2259.0 L1639.7,2260.1 L1636.8,2261.3 L1633.9,2262.5 L1630.9,2263.7 L1628.0,2264.9 L1625.1,2266.1 L1622.2,2267.3 L1619.3,2268.5 L1616.4,2269.7 L1613.4,2270.9 L1610.5,2272.2 L1607.6,2273.4 L1604.7,2274.6 L1601.8,2275.9 L1598.9,2277.1 L1596.0,2278.3 L1593.0,2279.6 L1590.1,2280.8 L1587.2,2282.1 L1584.3,2283.4 L1581.4,2284.6 L1578.5,2285.9 L1575.6,2287.1 L1572.7,2288.4 L1569.7,2289.7 L1566.8,2291.0 L1563.9,2292.2 L1561.0,2293.5 L1558.1,2294.8 L1555.2,2296.1 L1552.3,2297.4 L1549.4,2298.7 L1546.5,2300.0 L1543.6,2301.3 L1540.6,2302.5 L1537.7,2303.8 L1534.8,2305.1 L1531.9,2306.4 L1529.0,2307.7 L1526.1,2309.0 L1523.2,2310.4 L1520.3,2311.7 L1517.4,2313.0 L1514.5,2314.3 L1511.6,2315.6 L1508.6,2316.9 L1505.7,2318.2 L1502.8,2319.5 L1499.9,2320.8 L1497.0,2322.1 L1494.1,2323.5 L1491.2,2324.8 L1488.3,2326.1 L1485.4,2327.4 L1482.5,2328.7 L1479.6,2330.1 L1476.7,2331.4 L1473.8,2332.7 L1470.9,2334.0 L1467.9,2335.4 L1465.0,2336.7 L1462.1,2338.0 L1459.2,2339.3 L1456.3,2340.7 L1453.4,2342.0 L1450.5,2343.3 L1447.6,2344.6 L1444.7,2346.0 L1441.8,2347.3 L1438.9,2348.6 L1436.0,2350.0 L1433.1,2351.3 L1430.2,2352.6 L1427.2,2354.0 L1424.3,2355.3 L1421.4,2356.6 L1418.5,2358.0 L1415.6,2359.3 L1412.7,2360.6 L1409.8,2362.0 L1406.9,2363.3 L1404.0,2364.6 L1401.1,2366.0 L1398.2,2367.3 L1395.3,2368.6 L1392.4,2370.0 L1389.5,2371.3 L1386.6,2372.7 L1383.7,2374.0 L1380.7,2375.3 L1377.8,2376.7 L1348.9,2390.0 L1319.9,2403.4 L1291.0,2416.8 L1262.0,2430.2 L1233.1,2443.6 L1204.1,2457.1 L1175.2,2470.6 L1146.3,2484.0 L1117.3,2497.5 L1088.4,2511.1 L1059.4,2524.6 L1030.5,2538.1 L1001.5,2551.7 L972.6,2565.2 L943.6,2578.8 L914.7,2592.4 L885.7,2606.0 L856.8,2619.6 L827.8,2633.3 L798.9,2646.9 L769.9,2660.6 L741.0,2674.3 L712.0,2688.0 L683.1,2701.7 L654.1,2715.4 L625.2,2729.1 L596.3,2742.9 L567.3,2756.6 L538.4,2770.4 L509.4,2784.2 L480.5,2798.0 L451.5,2811.8 L422.6,2825.7 L393.6,2839.5 L364.7,2853.4 L335.7,2867.3 L306.8,2881.2 L277.8,2895.1 L248.9,2909.0 Z" fill="#ffd2d2" stroke="none"/><circle cx="253.0" cy="2916.5" r="16" stroke="#ffd2d2" stroke-width="18"/><circle cx="1795.0" cy="2227.6" r="16" stroke="#ffd2d2" stroke-width="18"/><circle cx="2140.3" cy="2917.0" r="16" stroke="#ffd2d2" stroke-width="18"/><path d="M254.9,2921.5 L283.8,2907.6 L312.8,2893.7 L341.7,2879.8 L370.7,2865.9 L399.6,2852.1 L428.6,2838.2 L457.5,2824.4 L486.4,2810.6 L515.4,2796.8 L544.3,2783.0 L573.3,2769.2 L602.2,2755.4 L631.2,2741.7 L660.1,2728.0 L689.1,2714.3 L718.0,2700.6 L746.9,2686.9 L775.9,2673.2 L804.8,2659.5 L833.8,2645.9 L862.7,2632.2 L891.7,2618.6 L920.6,2605.0 L949.5,2591.4 L978.5,2577.9 L1007.4,2564.3 L1036.4,2550.7 L1065.3,2537.2 L1094.3,2523.7 L1123.2,2510.2 L1152.1,2496.7 L1181.1,2483.2 L1210.0,2469.8 L1239.0,2456.3 L1267.9,2442.9 L1296.9,2429.5 L1325.8,2416.1 L1354.7,2402.7 L1383.7,2389.4 L1386.6,2388.0 L1389.5,2386.7 L1392.4,2385.3 L1395.3,2384.0 L1398.2,2382.7 L1401.1,2381.3 L1404.0,2380.0 L1406.9,2378.7 L1409.8,2377.3 L1412.7,2376.0 L1415.6,2374.7 L1418.5,2373.3 L1421.5,2372.0 L1424.4,2370.7 L1427.3,2369.3 L1430.2,2368.0 L1433.1,2366.7 L1436.0,2365.3 L1438.9,2364.0 L1441.8,2362.7 L1444.7,2361.3 L1447.6,2360.0 L1450.5,2358.7 L1453.4,2357.4 L1456.3,2356.0 L1459.2,2354.7 L1462.1,2353.4 L1465.0,2352.1 L1467.9,2350.7 L1470.8,2349.4 L1473.7,2348.1 L1476.6,2346.8 L1479.6,2345.4 L1482.5,2344.1 L1485.4,2342.8 L1488.3,2341.5 L1491.2,2340.2 L1494.1,2338.9 L1497.0,2337.5 L1499.9,2336.2 L1502.8,2334.9 L1505.7,2333.6 L1508.6,2332.3 L1511.5,2331.0 L1514.4,2329.7 L1517.3,2328.4 L1520.2,2327.1 L1523.1,2325.8 L1526.0,2324.4 L1528.9,2323.1 L1531.8,2321.8 L1534.7,2320.5 L1537.6,2319.3 L1540.5,2318.0 L1543.4,2316.7 L1546.3,2315.4 L1549.3,2314.1 L1552.2,2312.8 L1555.1,2311.5 L1558.0,2310.2 L1560.9,2308.9 L1563.8,2307.7 L1566.7,2306.4 L1569.6,2305.1 L1572.5,2303.9 L1575.4,2302.6 L1578.3,2301.3 L1581.2,2300.1 L1584.1,2298.8 L1587.0,2297.5 L1589.9,2296.3 L1592.8,2295.0 L1595.7,2293.8 L1598.6,2292.6 L1601.5,2291.3 L1604.4,2290.1 L1607.3,2288.9 L1610.2,2287.6 L1613.1,2286.4 L1616.0,2285.2 L1618.9,2284.0 L1621.8,2282.8 L1624.7,2281.6 L1627.6,2280.4 L1630.5,2279.2 L1633.4,2278.0 L1636.3,2276.8 L1639.2,2275.7 L1642.1,2274.5 L1645.0,2273.3 L1647.9,2272.2 L1650.8,2271.0 L1653.7,2269.9 L1656.6,2268.8 L1659.5,2267.7 L1662.4,2266.6 L1665.2,2265.5 L1668.1,2264.4 L1671.0,2263.3 L1673.9,2262.2 L1676.8,2261.2 L1679.7,2260.1 L1682.6,2259.1 L1685.5,2258.0 L1688.4,2257.0 L1691.3,2256.0 L1694.1,2255.0 L1697.0,2254.1 L1699.9,2253.1 L1702.8,2252.1 L1705.7,2251.2 L1708.6,2250.3 L1711.4,2249.4 L1714.3,2248.5 L1717.2,2247.7 L1720.1,2246.8 L1722.9,2246.0 L1725.8,2245.2 L1728.7,2244.4 L1731.6,2243.6 L1734.4,2242.9 L1737.3,2242.1 L1740.2,2241.4 L1743.0,2240.8 L1745.9,2240.1 L1748.7,2239.5 L1751.6,2238.9 L1754.5,2238.3 L1757.3,2237.8 L1760.2,2237.3 L1763.0,2236.8 L1765.8,2236.3 L1768.7,2235.9 L1771.5,2235.5 L1774.4,2235.2 L1777.2,2234.8 L1780.0,2234.5 L1782.8,2234.3 L1785.7,2234.1 L1788.5,2233.9 L1791.3,2233.8 L1794.1,2233.7 L1796.9,2233.6 L1799.7,2233.6 L1802.5,2233.7 L1805.3,2233.7 L1808.1,2233.9 L1810.9,2234.0 L1813.7,2234.3 L1816.5,2234.6 L1819.3,2234.9 L1822.1,2235.3 L1824.9,2235.7 L1827.7,2236.2 L1830.4,2236.7 L1833.2,2237.3 L1836.0,2238.0 L1838.8,2238.7 L1841.6,2239.5 L1844.4,2240.4 L1847.2,2241.3 L1850.0,2242.3 L1852.8,2243.4 L1855.6,2244.5 L1858.4,2245.8 L1861.2,2247.1 L1864.0,2248.4 L1866.9,2249.9 L1869.7,2251.5 L1872.6,2253.1 L1875.4,2254.8 L1878.3,2256.6 L1881.1,2258.6 L1884.0,2260.6 L1886.8,2262.7 L1889.7,2264.9 L1892.6,2267.2 L1895.5,2269.7 L1898.4,2272.2 L1901.3,2274.8 L1904.2,2277.6 L1907.0,2280.6 L1909.8,2283.7 L1912.6,2286.9 L1915.4,2290.2 L1918.2,2293.6 L1921.0,2297.2 L1923.8,2300.8 L1926.6,2304.6 L1929.4,2308.5 L1932.2,2312.5 L1935.1,2316.6 L1937.9,2320.9 L1940.7,2325.3 L1943.5,2329.8 L1946.4,2334.5 L1949.2,2339.2 L1952.1,2344.2 L1954.9,2349.2 L1957.8,2354.4 L1960.6,2359.7 L1963.5,2365.1 L1966.3,2370.7 L1969.2,2376.4 L1972.0,2382.2 L1974.9,2388.2 L1977.8,2394.3 L1980.6,2400.6 L1983.5,2407.0 L1986.4,2413.5 L1989.3,2420.1 L1992.1,2426.9 L1995.0,2433.9 L1997.9,2441.0 L2000.8,2448.2 L2003.6,2455.5 L2006.5,2463.0 L2009.4,2470.7 L2012.3,2478.4 L2015.2,2486.3 L2018.0,2494.4 L2020.9,2502.6 L2023.8,2510.9 L2026.7,2519.4 L2029.6,2527.9 L2032.5,2536.7 L2035.4,2545.6 L2038.3,2554.6 L2041.1,2563.7 L2044.0,2573.0 L2046.9,2582.4 L2049.8,2591.9 L2052.7,2601.6 L2055.6,2611.4 L2058.5,2621.4 L2061.4,2631.4 L2064.3,2641.6 L2067.2,2652.0 L2070.1,2662.4 L2073.0,2673.0 L2075.9,2683.8 L2078.8,2694.6 L2081.7,2705.6 L2084.6,2716.7 L2087.5,2728.0 L2090.4,2739.3 L2093.3,2750.8 L2096.2,2762.4 L2099.1,2774.2 L2102.0,2786.0 L2104.9,2798.0 L2107.8,2810.1 L2110.7,2822.4 L2113.6,2834.7 L2116.5,2847.2 L2119.4,2859.8 L2122.3,2872.5 L2125.2,2885.3 L2128.1,2898.3 L2139.8,2895.7 L2136.9,2882.7 L2134.0,2869.9 L2131.0,2857.1 L2128.1,2844.5 L2125.2,2832.0 L2122.3,2819.6 L2119.4,2807.4 L2116.5,2795.2 L2113.6,2783.2 L2110.7,2771.3 L2107.7,2759.6 L2104.8,2747.9 L2101.9,2736.4 L2099.0,2725.0 L2096.1,2713.7 L2093.2,2702.6 L2090.3,2691.6 L2087.3,2680.7 L2084.4,2669.9 L2081.5,2659.3 L2078.6,2648.8 L2075.7,2638.4 L2072.8,2628.2 L2069.9,2618.1 L2066.9,2608.1 L2064.0,2598.2 L2061.1,2588.5 L2058.2,2578.9 L2055.3,2569.5 L2052.3,2560.2 L2049.4,2551.0 L2046.5,2541.9 L2043.6,2533.0 L2040.7,2524.2 L2037.7,2515.6 L2034.8,2507.1 L2031.9,2498.7 L2029.0,2490.5 L2026.0,2482.4 L2023.1,2474.4 L2020.2,2466.6 L2017.2,2458.9 L2014.3,2451.4 L2011.4,2444.0 L2008.4,2436.7 L2005.5,2429.5 L2002.6,2422.5 L1999.6,2415.7 L1996.7,2409.0 L1993.8,2402.4 L1990.8,2395.9 L1987.9,2389.6 L1984.9,2383.4 L1982.0,2377.4 L1979.0,2371.5 L1976.1,2365.7 L1973.1,2360.0 L1970.2,2354.5 L1967.2,2349.2 L1964.2,2343.9 L1961.3,2338.8 L1958.3,2333.8 L1955.3,2329.0 L1952.4,2324.3 L1949.4,2319.7 L1946.4,2315.2 L1943.4,2310.9 L1940.4,2306.7 L1937.4,2302.6 L1934.4,2298.7 L1931.4,2294.9 L1928.4,2291.2 L1925.4,2287.6 L1922.4,2284.1 L1919.4,2280.8 L1916.4,2277.5 L1913.4,2274.4 L1910.4,2271.5 L1907.4,2268.5 L1904.5,2265.6 L1901.6,2262.8 L1898.7,2260.2 L1895.8,2257.6 L1892.8,2255.1 L1889.9,2252.7 L1886.9,2250.5 L1884.0,2248.3 L1881.0,2246.2 L1878.1,2244.2 L1875.1,2242.3 L1872.1,2240.5 L1869.1,2238.8 L1866.2,2237.2 L1863.2,2235.7 L1860.2,2234.3 L1857.2,2232.9 L1854.1,2231.6 L1851.1,2230.5 L1848.1,2229.4 L1845.1,2228.3 L1842.1,2227.4 L1839.1,2226.5 L1836.0,2225.7 L1833.0,2225.0 L1830.0,2224.3 L1827.0,2223.8 L1823.9,2223.2 L1820.9,2222.8 L1817.9,2222.4 L1814.9,2222.1 L1811.8,2221.8 L1808.8,2221.6 L1805.8,2221.5 L1802.8,2221.4 L1799.8,2221.3 L1796.8,2221.3 L1793.8,2221.4 L1790.8,2221.5 L1787.8,2221.6 L1784.8,2221.8 L1781.8,2222.1 L1778.8,2222.4 L1775.8,2222.7 L1772.9,2223.0 L1769.9,2223.4 L1766.9,2223.9 L1763.9,2224.3 L1761.0,2224.8 L1758.0,2225.3 L1755.1,2225.9 L1752.1,2226.5 L1749.1,2227.1 L1746.2,2227.8 L1743.2,2228.4 L1740.3,2229.1 L1737.3,2229.8 L1734.4,2230.6 L1731.4,2231.4 L1728.5,2232.1 L1725.6,2232.9 L1722.6,2233.8 L1719.7,2234.6 L1716.7,2235.5 L1713.8,2236.4 L1710.9,2237.3 L1707.9,2238.2 L1705.0,2239.1 L1702.1,2240.1 L1699.1,2241.0 L1696.2,2242.0 L1693.3,2243.0 L1690.4,2244.0 L1687.4,2245.0 L1684.5,2246.1 L1681.6,2247.1 L1678.7,2248.2 L1675.7,2249.2 L1672.8,2250.3 L1669.9,2251.4 L1667.0,2252.5 L1664.1,2253.6 L1661.2,2254.7 L1658.2,2255.8 L1655.3,2257.0 L1652.4,2258.1 L1649.5,2259.3 L1646.6,2260.4 L1643.7,2261.6 L1640.7,2262.7 L1637.8,2263.9 L1634.9,2265.1 L1632.0,2266.3 L1629.1,2267.5 L1626.2,2268.7 L1623.3,2269.9 L1620.3,2271.1 L1617.4,2272.3 L1614.5,2273.5 L1611.6,2274.7 L1608.7,2276.0 L1605.8,2277.2 L1602.9,2278.4 L1600.0,2279.7 L1597.1,2280.9 L1594.1,2282.2 L1591.2,2283.4 L1588.3,2284.7 L1585.4,2285.9 L1582.5,2287.2 L1579.6,2288.4 L1576.7,2289.7 L1573.8,2291.0 L1570.9,2292.3 L1568.0,2293.5 L1565.0,2294.8 L1562.1,2296.1 L1559.2,2297.4 L1556.3,2298.7 L1553.4,2299.9 L1550.5,2301.2 L1547.6,2302.5 L1544.7,2303.8 L1541.8,2305.1 L1538.9,2306.4 L1536.0,2307.7 L1533.1,2309.0 L1530.2,2310.3 L1527.2,2311.6 L1524.3,2312.9 L1521.4,2314.2 L1518.5,2315.5 L1515.6,2316.8 L1512.7,2318.1 L1509.8,2319.4 L1506.9,2320.8 L1504.0,2322.1 L1501.1,2323.4 L1498.2,2324.7 L1495.3,2326.0 L1492.4,2327.3 L1489.5,2328.6 L1486.5,2330.0 L1483.6,2331.3 L1480.7,2332.6 L1477.8,2333.9 L1474.9,2335.3 L1472.0,2336.6 L1469.1,2337.9 L1466.2,2339.2 L1463.3,2340.5 L1460.4,2341.9 L1457.5,2343.2 L1454.6,2344.5 L1451.7,2345.9 L1448.8,2347.2 L1445.9,2348.5 L1442.9,2349.8 L1440.0,2351.2 L1437.1,2352.5 L1434.2,2353.8 L1431.3,2355.2 L1428.4,2356.5 L1425.5,2357.8 L1422.6,2359.2 L1419.7,2360.5 L1416.8,2361.8 L1413.9,2363.2 L1411.0,2364.5 L1408.1,2365.8 L1405.2,2367.2 L1402.3,2368.5 L1399.4,2369.8 L1396.4,2371.2 L1393.5,2372.5 L1390.6,2373.9 L1387.7,2375.2 L1384.8,2376.5 L1381.9,2377.9 L1379.0,2379.2 L1350.1,2392.6 L1321.1,2405.9 L1292.2,2419.3 L1263.2,2432.8 L1234.3,2446.2 L1205.3,2459.6 L1176.4,2473.1 L1147.4,2486.6 L1118.5,2500.1 L1089.5,2513.6 L1060.6,2527.1 L1031.6,2540.6 L1002.7,2554.2 L973.8,2567.8 L944.8,2581.3 L915.9,2594.9 L886.9,2608.6 L858.0,2622.2 L829.0,2635.8 L800.1,2649.5 L771.1,2663.1 L742.2,2676.8 L713.2,2690.5 L684.3,2704.2 L655.3,2717.9 L626.4,2731.7 L597.5,2745.4 L568.5,2759.2 L539.6,2773.0 L510.6,2786.7 L481.7,2800.6 L452.7,2814.4 L423.8,2828.2 L394.8,2842.1 L365.9,2855.9 L336.9,2869.8 L308.0,2883.7 L279.0,2897.6 L250.1,2911.5 Z" fill="#e40c0c" stroke="none"/><circle cx="253.0" cy="2916.5" r="16" stroke="#e40c0c" stroke-width="12.5"/><circle cx="1795.0" cy="2227.6" r="16" stroke="#e40c0c" stroke-width="12.5"/><circle cx="2140.3" cy="2917.0" r="16" stroke="#e40c0c" stroke-width="12.5"/>
<path d="M252.5,2916.5 L281.2,2905.5 L309.9,2894.4 L338.6,2883.4 L367.3,2872.4 L396.0,2861.4 L424.8,2850.4 L453.5,2839.4 L482.2,2828.4 L510.9,2817.5 L539.6,2806.5 L568.3,2795.6 L597.0,2784.7 L625.7,2773.8 L654.4,2762.9 L683.1,2752.0 L711.8,2741.1 L740.5,2730.2 L769.3,2719.4 L798.0,2708.5 L826.7,2697.7 L855.4,2686.9 L884.1,2676.0 L912.8,2665.2 L941.5,2654.5 L970.2,2643.7 L998.9,2632.9 L1027.6,2622.2 L1056.3,2611.4 L1085.0,2600.7 L1113.8,2589.9 L1142.5,2579.2 L1171.2,2568.5 L1199.9,2557.9 L1228.6,2547.2 L1257.3,2536.5 L1286.0,2525.9 L1314.7,2515.2 L1343.4,2504.6 L1372.1,2494.0 L1375.0,2492.9 L1377.9,2491.9 L1380.8,2490.8 L1383.7,2489.8 L1386.5,2488.7 L1389.4,2487.6 L1392.3,2486.6 L1395.2,2485.5 L1398.1,2484.4 L1401.0,2483.4 L1403.8,2482.3 L1406.7,2481.3 L1409.6,2480.2 L1412.5,2479.1 L1415.4,2478.1 L1418.2,2477.0 L1421.1,2476.0 L1424.0,2474.9 L1426.9,2473.9 L1429.8,2472.8 L1432.7,2471.7 L1435.5,2470.7 L1438.4,2469.6 L1441.3,2468.6 L1444.2,2467.5 L1447.1,2466.5 L1449.9,2465.4 L1452.8,2464.3 L1455.7,2463.3 L1458.6,2462.2 L1461.5,2461.2 L1464.4,2460.1 L1467.2,2459.1 L1470.1,2458.0 L1473.0,2457.0 L1475.9,2455.9 L1478.8,2454.9 L1481.6,2453.8 L1484.5,2452.8 L1487.4,2451.7 L1490.3,2450.7 L1493.2,2449.6 L1496.1,2448.6 L1498.9,2447.5 L1501.8,2446.5 L1504.7,2445.5 L1507.6,2444.4 L1510.5,2443.4 L1513.3,2442.3 L1516.2,2441.3 L1519.1,2440.3 L1522.0,2439.2 L1524.9,2438.2 L1527.8,2437.1 L1530.6,2436.1 L1533.5,2435.1 L1536.4,2434.0 L1539.3,2433.0 L1542.2,2432.0 L1545.0,2430.9 L1547.9,2429.9 L1550.8,2428.9 L1553.7,2427.9 L1556.6,2426.8 L1559.5,2425.8 L1562.3,2424.8 L1565.2,2423.8 L1568.1,2422.8 L1571.0,2421.8 L1573.9,2420.7 L1576.7,2419.7 L1579.6,2418.7 L1582.5,2417.7 L1585.4,2416.7 L1588.3,2415.7 L1591.2,2414.7 L1594.0,2413.7 L1596.9,2412.7 L1599.8,2411.7 L1602.7,2410.7 L1605.6,2409.7 L1608.4,2408.8 L1611.3,2407.8 L1614.2,2406.8 L1617.1,2405.8 L1620.0,2404.9 L1622.9,2403.9 L1625.7,2402.9 L1628.6,2402.0 L1631.5,2401.0 L1634.4,2400.1 L1637.3,2399.1 L1640.2,2398.2 L1643.0,2397.2 L1645.9,2396.3 L1648.8,2395.4 L1651.7,2394.5 L1654.6,2393.6 L1657.4,2392.6 L1660.3,2391.7 L1663.2,2390.8 L1666.1,2390.0 L1669.0,2389.1 L1671.9,2388.2 L1674.7,2387.3 L1677.6,2386.5 L1680.5,2385.6 L1683.4,2384.8 L1686.3,2383.9 L1689.1,2383.1 L1692.0,2382.3 L1694.9,2381.5 L1697.8,2380.7 L1700.7,2379.9 L1703.6,2379.1 L1706.4,2378.3 L1709.3,2377.6 L1712.2,2376.8 L1715.1,2376.1 L1718.0,2375.4 L1720.8,2374.7 L1723.7,2374.0 L1726.6,2373.3 L1729.5,2372.7 L1732.4,2372.0 L1735.3,2371.4 L1738.1,2370.8 L1741.0,2370.2 L1743.9,2369.6 L1746.8,2369.0 L1749.7,2368.5 L1752.5,2368.0 L1755.4,2367.5 L1758.3,2367.0 L1761.2,2366.5 L1764.1,2366.1 L1767.0,2365.7 L1769.8,2365.3 L1772.7,2365.0 L1775.6,2364.6 L1778.5,2364.3 L1781.4,2364.1 L1784.2,2363.8 L1787.1,2363.6 L1790.0,2363.4 L1792.9,2363.3 L1795.8,2363.1 L1798.7,2363.1 L1801.5,2363.0 L1804.4,2363.0 L1807.3,2363.0 L1810.2,2363.1 L1813.1,2363.2 L1815.9,2363.4 L1818.8,2363.6 L1821.7,2363.8 L1824.6,2364.1 L1827.5,2364.5 L1830.4,2364.8 L1833.2,2365.3 L1836.1,2365.8 L1839.0,2366.3 L1841.9,2366.9 L1844.8,2367.6 L1847.7,2368.3 L1850.5,2369.1 L1853.4,2369.9 L1856.3,2370.8 L1859.2,2371.8 L1862.1,2372.8 L1864.9,2373.9 L1867.8,2375.1 L1870.7,2376.3 L1873.6,2377.6 L1876.5,2379.0 L1879.4,2380.5 L1882.2,2382.0 L1885.1,2383.7 L1888.0,2385.4 L1890.9,2387.2 L1893.8,2389.1 L1896.6,2391.1 L1899.5,2393.1 L1902.4,2395.3 L1905.3,2397.5 L1908.2,2399.9 L1911.1,2402.3 L1913.9,2404.9 L1916.8,2407.5 L1919.7,2410.3 L1922.6,2413.1 L1925.5,2416.1 L1928.3,2419.1 L1931.2,2422.3 L1934.1,2425.6 L1937.0,2429.0 L1939.9,2432.5 L1942.8,2436.1 L1945.6,2439.8 L1948.5,2443.7 L1951.4,2447.7 L1954.3,2451.8 L1957.2,2456.0 L1960.0,2460.3 L1962.9,2464.8 L1965.8,2469.4 L1968.7,2474.1 L1971.6,2479.0 L1974.5,2483.9 L1977.3,2489.0 L1980.2,2494.3 L1983.1,2499.6 L1986.0,2505.1 L1988.9,2510.8 L1991.7,2516.5 L1994.6,2522.4 L1997.5,2528.4 L2000.4,2534.6 L2003.3,2540.9 L2006.2,2547.3 L2009.0,2553.9 L2011.9,2560.6 L2014.8,2567.4 L2017.7,2574.4 L2020.6,2581.5 L2023.4,2588.8 L2026.3,2596.2 L2029.2,2603.7 L2032.1,2611.4 L2035.0,2619.2 L2037.9,2627.1 L2040.7,2635.2 L2043.6,2643.4 L2046.5,2651.7 L2049.4,2660.2 L2052.3,2668.8 L2055.1,2677.6 L2058.0,2686.5 L2060.9,2695.5 L2063.8,2704.7 L2066.7,2714.0 L2069.6,2723.4 L2072.4,2733.0 L2075.3,2742.7 L2078.2,2752.5 L2081.1,2762.5 L2084.0,2772.6 L2086.9,2782.8 L2089.7,2793.2 L2092.6,2803.6 L2095.5,2814.3 L2098.4,2825.0 L2101.3,2835.9 L2104.1,2846.9 L2107.0,2858.0 L2109.9,2869.3 L2112.8,2880.7 L2115.7,2892.2 L2118.6,2903.8" stroke="#b4b4f2" stroke-width="5.5" stroke-opacity="0.6"/><path d="M252.5,2916.5 L281.2,2905.5 L309.9,2894.4 L338.6,2883.4 L367.3,2872.4 L396.0,2861.4 L424.8,2850.4 L453.5,2839.4 L482.2,2828.4 L510.9,2817.5 L539.6,2806.5 L568.3,2795.6 L597.0,2784.7 L625.7,2773.8 L654.4,2762.9 L683.1,2752.0 L711.8,2741.1 L740.5,2730.2 L769.3,2719.4 L798.0,2708.5 L826.7,2697.7 L855.4,2686.9 L884.1,2676.0 L912.8,2665.2 L941.5,2654.5 L970.2,2643.7 L998.9,2632.9 L1027.6,2622.2 L1056.3,2611.4 L1085.0,2600.7 L1113.8,2589.9 L1142.5,2579.2 L1171.2,2568.5 L1199.9,2557.9 L1228.6,2547.2 L1257.3,2536.5 L1286.0,2525.9 L1314.7,2515.2 L1343.4,2504.6 L1372.1,2494.0 L1375.0,2492.9 L1377.9,2491.9 L1380.8,2490.8 L1383.7,2489.8 L1386.5,2488.7 L1389.4,2487.6 L1392.3,2486.6 L1395.2,2485.5 L1398.1,2484.4 L1401.0,2483.4 L1403.8,2482.3 L1406.7,2481.3 L1409.6,2480.2 L1412.5,2479.1 L1415.4,2478.1 L1418.2,2477.0 L1421.1,2476.0 L1424.0,2474.9 L1426.9,2473.9 L1429.8,2472.8 L1432.7,2471.7 L1435.5,2470.7 L1438.4,2469.6 L1441.3,2468.6 L1444.2,2467.5 L1447.1,2466.5 L1449.9,2465.4 L1452.8,2464.3 L1455.7,2463.3 L1458.6,2462.2 L1461.5,2461.2 L1464.4,2460.1 L1467.2,2459.1 L1470.1,2458.0 L1473.0,2457.0 L1475.9,2455.9 L1478.8,2454.9 L1481.6,2453.8 L1484.5,2452.8 L1487.4,2451.7 L1490.3,2450.7 L1493.2,2449.6 L1496.1,2448.6 L1498.9,2447.5 L1501.8,2446.5 L1504.7,2445.5 L1507.6,2444.4 L1510.5,2443.4 L1513.3,2442.3 L1516.2,2441.3 L1519.1,2440.3 L1522.0,2439.2 L1524.9,2438.2 L1527.8,2437.1 L1530.6,2436.1 L1533.5,2435.1 L1536.4,2434.0 L1539.3,2433.0 L1542.2,2432.0 L1545.0,2430.9 L1547.9,2429.9 L1550.8,2428.9 L1553.7,2427.9 L1556.6,2426.8 L1559.5,2425.8 L1562.3,2424.8 L1565.2,2423.8 L1568.1,2422.8 L1571.0,2421.8 L1573.9,2420.7 L1576.7,2419.7 L1579.6,2418.7 L1582.5,2417.7 L1585.4,2416.7 L1588.3,2415.7 L1591.2,2414.7 L1594.0,2413.7 L1596.9,2412.7 L1599.8,2411.7 L1602.7,2410.7 L1605.6,2409.7 L1608.4,2408.8 L1611.3,2407.8 L1614.2,2406.8 L1617.1,2405.8 L1620.0,2404.9 L1622.9,2403.9 L1625.7,2402.9 L1628.6,2402.0 L1631.5,2401.0 L1634.4,2400.1 L1637.3,2399.1 L1640.2,2398.2 L1643.0,2397.2 L1645.9,2396.3 L1648.8,2395.4 L1651.7,2394.5 L1654.6,2393.6 L1657.4,2392.6 L1660.3,2391.7 L1663.2,2390.8 L1666.1,2390.0 L1669.0,2389.1 L1671.9,2388.2 L1674.7,2387.3 L1677.6,2386.5 L1680.5,2385.6 L1683.4,2384.8 L1686.3,2383.9 L1689.1,2383.1 L1692.0,2382.3 L1694.9,2381.5 L1697.8,2380.7 L1700.7,2379.9 L1703.6,2379.1 L1706.4,2378.3 L1709.3,2377.6 L1712.2,2376.8 L1715.1,2376.1 L1718.0,2375.4 L1720.8,2374.7 L1723.7,2374.0 L1726.6,2373.3 L1729.5,2372.7 L1732.4,2372.0 L1735.3,2371.4 L1738.1,2370.8 L1741.0,2370.2 L1743.9,2369.6 L1746.8,2369.0 L1749.7,2368.5 L1752.5,2368.0 L1755.4,2367.5 L1758.3,2367.0 L1761.2,2366.5 L1764.1,2366.1 L1767.0,2365.7 L1769.8,2365.3 L1772.7,2365.0 L1775.6,2364.6 L1778.5,2364.3 L1781.4,2364.1 L1784.2,2363.8 L1787.1,2363.6 L1790.0,2363.4 L1792.9,2363.3 L1795.8,2363.1 L1798.7,2363.1 L1801.5,2363.0 L1804.4,2363.0 L1807.3,2363.0 L1810.2,2363.1 L1813.1,2363.2 L1815.9,2363.4 L1818.8,2363.6 L1821.7,2363.8 L1824.6,2364.1 L1827.5,2364.5 L1830.4,2364.8 L1833.2,2365.3 L1836.1,2365.8 L1839.0,2366.3 L1841.9,2366.9 L1844.8,2367.6 L1847.7,2368.3 L1850.5,2369.1 L1853.4,2369.9 L1856.3,2370.8 L1859.2,2371.8 L1862.1,2372.8 L1864.9,2373.9 L1867.8,2375.1 L1870.7,2376.3 L1873.6,2377.6 L1876.5,2379.0 L1879.4,2380.5 L1882.2,2382.0 L1885.1,2383.7 L1888.0,2385.4 L1890.9,2387.2 L1893.8,2389.1 L1896.6,2391.1 L1899.5,2393.1 L1902.4,2395.3 L1905.3,2397.5 L1908.2,2399.9 L1911.1,2402.3 L1913.9,2404.9 L1916.8,2407.5 L1919.7,2410.3 L1922.6,2413.1 L1925.5,2416.1 L1928.3,2419.1 L1931.2,2422.3 L1934.1,2425.6 L1937.0,2429.0 L1939.9,2432.5 L1942.8,2436.1 L1945.6,2439.8 L1948.5,2443.7 L1951.4,2447.7 L1954.3,2451.8 L1957.2,2456.0 L1960.0,2460.3 L1962.9,2464.8 L1965.8,2469.4 L1968.7,2474.1 L1971.6,2479.0 L1974.5,2483.9 L1977.3,2489.0 L1980.2,2494.3 L1983.1,2499.6 L1986.0,2505.1 L1988.9,2510.8 L1991.7,2516.5 L1994.6,2522.4 L1997.5,2528.4 L2000.4,2534.6 L2003.3,2540.9 L2006.2,2547.3 L2009.0,2553.9 L2011.9,2560.6 L2014.8,2567.4 L2017.7,2574.4 L2020.6,2581.5 L2023.4,2588.8 L2026.3,2596.2 L2029.2,2603.7 L2032.1,2611.4 L2035.0,2619.2 L2037.9,2627.1 L2040.7,2635.2 L2043.6,2643.4 L2046.5,2651.7 L2049.4,2660.2 L2052.3,2668.8 L2055.1,2677.6 L2058.0,2686.5 L2060.9,2695.5 L2063.8,2704.7 L2066.7,2714.0 L2069.6,2723.4 L2072.4,2733.0 L2075.3,2742.7 L2078.2,2752.5 L2081.1,2762.5 L2084.0,2772.6 L2086.9,2782.8 L2089.7,2793.2 L2092.6,2803.6 L2095.5,2814.3 L2098.4,2825.0 L2101.3,2835.9 L2104.1,2846.9 L2107.0,2858.0 L2109.9,2869.3 L2112.8,2880.7 L2115.7,2892.2 L2118.6,2903.8" stroke="#181866" stroke-width="2.8"/>
<path d="M252.5,2916.5 L280.9,2908.3 L309.3,2900.1 L337.7,2891.9 L366.1,2883.7 L394.5,2875.6 L422.9,2867.4 L451.4,2859.3 L479.8,2851.1 L508.2,2843.0 L536.6,2834.9 L565.0,2826.7 L593.4,2818.6 L621.8,2810.5 L650.2,2802.4 L678.6,2794.3 L707.0,2786.3 L735.4,2778.2 L763.8,2770.1 L792.2,2762.1 L820.7,2754.0 L849.1,2746.0 L877.5,2738.0 L905.9,2730.0 L934.3,2721.9 L962.7,2713.9 L991.1,2705.9 L1019.5,2698.0 L1047.9,2690.0 L1076.3,2682.0 L1104.7,2674.0 L1133.1,2666.1 L1161.6,2658.1 L1190.0,2650.2 L1218.4,2642.3 L1246.8,2634.4 L1275.2,2626.5 L1303.6,2618.6 L1332.0,2610.7 L1360.4,2602.8 L1363.3,2602.0 L1366.1,2601.2 L1369.0,2600.4 L1371.8,2599.6 L1374.7,2598.9 L1377.5,2598.1 L1380.4,2597.3 L1383.2,2596.5 L1386.1,2595.7 L1388.9,2594.9 L1391.8,2594.1 L1394.6,2593.3 L1397.5,2592.5 L1400.3,2591.8 L1403.2,2591.0 L1406.0,2590.2 L1408.9,2589.4 L1411.7,2588.6 L1414.6,2587.8 L1417.4,2587.0 L1420.3,2586.3 L1423.1,2585.5 L1426.0,2584.7 L1428.8,2583.9 L1431.7,2583.1 L1434.6,2582.3 L1437.4,2581.5 L1440.3,2580.8 L1443.1,2580.0 L1446.0,2579.2 L1448.8,2578.4 L1451.7,2577.6 L1454.5,2576.8 L1457.4,2576.1 L1460.2,2575.3 L1463.1,2574.5 L1465.9,2573.7 L1468.8,2572.9 L1471.6,2572.2 L1474.5,2571.4 L1477.3,2570.6 L1480.2,2569.8 L1483.0,2569.0 L1485.9,2568.3 L1488.7,2567.5 L1491.6,2566.7 L1494.4,2565.9 L1497.3,2565.1 L1500.1,2564.4 L1503.0,2563.6 L1505.8,2562.8 L1508.7,2562.0 L1511.6,2561.3 L1514.4,2560.5 L1517.3,2559.7 L1520.1,2559.0 L1523.0,2558.2 L1525.8,2557.4 L1528.7,2556.6 L1531.5,2555.9 L1534.4,2555.1 L1537.2,2554.3 L1540.1,2553.6 L1542.9,2552.8 L1545.8,2552.0 L1548.6,2551.3 L1551.5,2550.5 L1554.3,2549.8 L1557.2,2549.0 L1560.0,2548.2 L1562.9,2547.5 L1565.7,2546.7 L1568.6,2546.0 L1571.4,2545.2 L1574.3,2544.5 L1577.1,2543.7 L1580.0,2543.0 L1582.8,2542.2 L1585.7,2541.5 L1588.5,2540.7 L1591.4,2540.0 L1594.3,2539.2 L1597.1,2538.5 L1600.0,2537.8 L1602.8,2537.0 L1605.7,2536.3 L1608.5,2535.6 L1611.4,2534.8 L1614.2,2534.1 L1617.1,2533.4 L1619.9,2532.7 L1622.8,2531.9 L1625.6,2531.2 L1628.5,2530.5 L1631.3,2529.8 L1634.2,2529.1 L1637.0,2528.4 L1639.9,2527.7 L1642.7,2527.0 L1645.6,2526.3 L1648.4,2525.6 L1651.3,2524.9 L1654.1,2524.2 L1657.0,2523.6 L1659.8,2522.9 L1662.7,2522.2 L1665.5,2521.5 L1668.4,2520.9 L1671.2,2520.2 L1674.1,2519.6 L1677.0,2518.9 L1679.8,2518.3 L1682.7,2517.7 L1685.5,2517.0 L1688.4,2516.4 L1691.2,2515.8 L1694.1,2515.2 L1696.9,2514.6 L1699.8,2514.0 L1702.6,2513.4 L1705.5,2512.8 L1708.3,2512.3 L1711.2,2511.7 L1714.0,2511.2 L1716.9,2510.6 L1719.7,2510.1 L1722.6,2509.6 L1725.4,2509.0 L1728.3,2508.5 L1731.1,2508.1 L1734.0,2507.6 L1736.8,2507.1 L1739.7,2506.7 L1742.5,2506.2 L1745.4,2505.8 L1748.2,2505.4 L1751.1,2505.0 L1753.9,2504.6 L1756.8,2504.2 L1759.7,2503.9 L1762.5,2503.5 L1765.4,2503.2 L1768.2,2502.9 L1771.1,2502.6 L1773.9,2502.4 L1776.8,2502.1 L1779.6,2501.9 L1782.5,2501.7 L1785.3,2501.5 L1788.2,2501.4 L1791.0,2501.2 L1793.9,2501.1 L1796.7,2501.0 L1799.6,2501.0 L1802.4,2501.0 L1805.3,2501.0 L1808.1,2501.0 L1811.0,2501.0 L1813.8,2501.1 L1816.7,2501.3 L1819.5,2501.4 L1822.4,2501.6 L1825.2,2501.8 L1828.1,2502.1 L1830.9,2502.4 L1833.8,2502.8 L1836.7,2503.1 L1839.5,2503.6 L1842.4,2504.0 L1845.2,2504.5 L1848.1,2505.1 L1850.9,2505.7 L1853.8,2506.4 L1856.6,2507.1 L1859.5,2507.8 L1862.3,2508.6 L1865.2,2509.5 L1868.0,2510.4 L1870.9,2511.4 L1873.7,2512.4 L1876.6,2513.5 L1879.4,2514.7 L1882.3,2515.9 L1885.1,2517.2 L1888.0,2518.6 L1890.8,2520.0 L1893.7,2521.5 L1896.5,2523.1 L1899.4,2524.7 L1902.2,2526.4 L1905.1,2528.2 L1907.9,2530.1 L1910.8,2532.1 L1913.6,2534.1 L1916.5,2536.3 L1919.4,2538.5 L1922.2,2540.8 L1925.1,2543.2 L1927.9,2545.7 L1930.8,2548.3 L1933.6,2551.0 L1936.5,2553.7 L1939.3,2556.6 L1942.2,2559.6 L1945.0,2562.7 L1947.9,2565.9 L1950.7,2569.1 L1953.6,2572.5 L1956.4,2576.1 L1959.3,2579.7 L1962.1,2583.4 L1965.0,2587.2 L1967.8,2591.2 L1970.7,2595.3 L1973.5,2599.5 L1976.4,2603.8 L1979.2,2608.2 L1982.1,2612.7 L1984.9,2617.4 L1987.8,2622.2 L1990.6,2627.1 L1993.5,2632.2 L1996.3,2637.4 L1999.2,2642.7 L2002.1,2648.1 L2004.9,2653.6 L2007.8,2659.3 L2010.6,2665.1 L2013.5,2671.1 L2016.3,2677.2 L2019.2,2683.4 L2022.0,2689.7 L2024.9,2696.2 L2027.7,2702.8 L2030.6,2709.6 L2033.4,2716.5 L2036.3,2723.5 L2039.1,2730.6 L2042.0,2737.9 L2044.8,2745.3 L2047.7,2752.9 L2050.5,2760.6 L2053.4,2768.4 L2056.2,2776.4 L2059.1,2784.5 L2061.9,2792.7 L2064.8,2801.1 L2067.6,2809.6 L2070.5,2818.3 L2073.3,2827.0 L2076.2,2835.9 L2079.0,2845.0 L2081.9,2854.2 L2084.8,2863.5 L2087.6,2872.9 L2090.5,2882.5 L2093.3,2892.2 L2096.2,2902.1 L2099.0,2912.1" stroke="#b4b4f2" stroke-width="5.5" stroke-opacity="0.6"/><path d="M252.5,2916.5 L280.9,2908.3 L309.3,2900.1 L337.7,2891.9 L366.1,2883.7 L394.5,2875.6 L422.9,2867.4 L451.4,2859.3 L479.8,2851.1 L508.2,2843.0 L536.6,2834.9 L565.0,2826.7 L593.4,2818.6 L621.8,2810.5 L650.2,2802.4 L678.6,2794.3 L707.0,2786.3 L735.4,2778.2 L763.8,2770.1 L792.2,2762.1 L820.7,2754.0 L849.1,2746.0 L877.5,2738.0 L905.9,2730.0 L934.3,2721.9 L962.7,2713.9 L991.1,2705.9 L1019.5,2698.0 L1047.9,2690.0 L1076.3,2682.0 L1104.7,2674.0 L1133.1,2666.1 L1161.6,2658.1 L1190.0,2650.2 L1218.4,2642.3 L1246.8,2634.4 L1275.2,2626.5 L1303.6,2618.6 L1332.0,2610.7 L1360.4,2602.8 L1363.3,2602.0 L1366.1,2601.2 L1369.0,2600.4 L1371.8,2599.6 L1374.7,2598.9 L1377.5,2598.1 L1380.4,2597.3 L1383.2,2596.5 L1386.1,2595.7 L1388.9,2594.9 L1391.8,2594.1 L1394.6,2593.3 L1397.5,2592.5 L1400.3,2591.8 L1403.2,2591.0 L1406.0,2590.2 L1408.9,2589.4 L1411.7,2588.6 L1414.6,2587.8 L1417.4,2587.0 L1420.3,2586.3 L1423.1,2585.5 L1426.0,2584.7 L1428.8,2583.9 L1431.7,2583.1 L1434.6,2582.3 L1437.4,2581.5 L1440.3,2580.8 L1443.1,2580.0 L1446.0,2579.2 L1448.8,2578.4 L1451.7,2577.6 L1454.5,2576.8 L1457.4,2576.1 L1460.2,2575.3 L1463.1,2574.5 L1465.9,2573.7 L1468.8,2572.9 L1471.6,2572.2 L1474.5,2571.4 L1477.3,2570.6 L1480.2,2569.8 L1483.0,2569.0 L1485.9,2568.3 L1488.7,2567.5 L1491.6,2566.7 L1494.4,2565.9 L1497.3,2565.1 L1500.1,2564.4 L1503.0,2563.6 L1505.8,2562.8 L1508.7,2562.0 L1511.6,2561.3 L1514.4,2560.5 L1517.3,2559.7 L1520.1,2559.0 L1523.0,2558.2 L1525.8,2557.4 L1528.7,2556.6 L1531.5,2555.9 L1534.4,2555.1 L1537.2,2554.3 L1540.1,2553.6 L1542.9,2552.8 L1545.8,2552.0 L1548.6,2551.3 L1551.5,2550.5 L1554.3,2549.8 L1557.2,2549.0 L1560.0,2548.2 L1562.9,2547.5 L1565.7,2546.7 L1568.6,2546.0 L1571.4,2545.2 L1574.3,2544.5 L1577.1,2543.7 L1580.0,2543.0 L1582.8,2542.2 L1585.7,2541.5 L1588.5,2540.7 L1591.4,2540.0 L1594.3,2539.2 L1597.1,2538.5 L1600.0,2537.8 L1602.8,2537.0 L1605.7,2536.3 L1608.5,2535.6 L1611.4,2534.8 L1614.2,2534.1 L1617.1,2533.4 L1619.9,2532.7 L1622.8,2531.9 L1625.6,2531.2 L1628.5,2530.5 L1631.3,2529.8 L1634.2,2529.1 L1637.0,2528.4 L1639.9,2527.7 L1642.7,2527.0 L1645.6,2526.3 L1648.4,2525.6 L1651.3,2524.9 L1654.1,2524.2 L1657.0,2523.6 L1659.8,2522.9 L1662.7,2522.2 L1665.5,2521.5 L1668.4,2520.9 L1671.2,2520.2 L1674.1,2519.6 L1677.0,2518.9 L1679.8,2518.3 L1682.7,2517.7 L1685.5,2517.0 L1688.4,2516.4 L1691.2,2515.8 L1694.1,2515.2 L1696.9,2514.6 L1699.8,2514.0 L1702.6,2513.4 L1705.5,2512.8 L1708.3,2512.3 L1711.2,2511.7 L1714.0,2511.2 L1716.9,2510.6 L1719.7,2510.1 L1722.6,2509.6 L1725.4,2509.0 L1728.3,2508.5 L1731.1,2508.1 L1734.0,2507.6 L1736.8,2507.1 L1739.7,2506.7 L1742.5,2506.2 L1745.4,2505.8 L1748.2,2505.4 L1751.1,2505.0 L1753.9,2504.6 L1756.8,2504.2 L1759.7,2503.9 L1762.5,2503.5 L1765.4,2503.2 L1768.2,2502.9 L1771.1,2502.6 L1773.9,2502.4 L1776.8,2502.1 L1779.6,2501.9 L1782.5,2501.7 L1785.3,2501.5 L1788.2,2501.4 L1791.0,2501.2 L1793.9,2501.1 L1796.7,2501.0 L1799.6,2501.0 L1802.4,2501.0 L1805.3,2501.0 L1808.1,2501.0 L1811.0,2501.0 L1813.8,2501.1 L1816.7,2501.3 L1819.5,2501.4 L1822.4,2501.6 L1825.2,2501.8 L1828.1,2502.1 L1830.9,2502.4 L1833.8,2502.8 L1836.7,2503.1 L1839.5,2503.6 L1842.4,2504.0 L1845.2,2504.5 L1848.1,2505.1 L1850.9,2505.7 L1853.8,2506.4 L1856.6,2507.1 L1859.5,2507.8 L1862.3,2508.6 L1865.2,2509.5 L1868.0,2510.4 L1870.9,2511.4 L1873.7,2512.4 L1876.6,2513.5 L1879.4,2514.7 L1882.3,2515.9 L1885.1,2517.2 L1888.0,2518.6 L1890.8,2520.0 L1893.7,2521.5 L1896.5,2523.1 L1899.4,2524.7 L1902.2,2526.4 L1905.1,2528.2 L1907.9,2530.1 L1910.8,2532.1 L1913.6,2534.1 L1916.5,2536.3 L1919.4,2538.5 L1922.2,2540.8 L1925.1,2543.2 L1927.9,2545.7 L1930.8,2548.3 L1933.6,2551.0 L1936.5,2553.7 L1939.3,2556.6 L1942.2,2559.6 L1945.0,2562.7 L1947.9,2565.9 L1950.7,2569.1 L1953.6,2572.5 L1956.4,2576.1 L1959.3,2579.7 L1962.1,2583.4 L1965.0,2587.2 L1967.8,2591.2 L1970.7,2595.3 L1973.5,2599.5 L1976.4,2603.8 L1979.2,2608.2 L1982.1,2612.7 L1984.9,2617.4 L1987.8,2622.2 L1990.6,2627.1 L1993.5,2632.2 L1996.3,2637.4 L1999.2,2642.7 L2002.1,2648.1 L2004.9,2653.6 L2007.8,2659.3 L2010.6,2665.1 L2013.5,2671.1 L2016.3,2677.2 L2019.2,2683.4 L2022.0,2689.7 L2024.9,2696.2 L2027.7,2702.8 L2030.6,2709.6 L2033.4,2716.5 L2036.3,2723.5 L2039.1,2730.6 L2042.0,2737.9 L2044.8,2745.3 L2047.7,2752.9 L2050.5,2760.6 L2053.4,2768.4 L2056.2,2776.4 L2059.1,2784.5 L2061.9,2792.7 L2064.8,2801.1 L2067.6,2809.6 L2070.5,2818.3 L2073.3,2827.0 L2076.2,2835.9 L2079.0,2845.0 L2081.9,2854.2 L2084.8,2863.5 L2087.6,2872.9 L2090.5,2882.5 L2093.3,2892.2 L2096.2,2902.1 L2099.0,2912.1" stroke="#181866" stroke-width="2.8"/>
<path d="M252.5,2916.5 L280.5,2911.1 L308.4,2905.7 L336.4,2900.4 L364.4,2895.0 L392.3,2889.6 L420.3,2884.3 L448.2,2878.9 L476.2,2873.6 L504.2,2868.2 L532.1,2862.9 L560.1,2857.6 L588.1,2852.2 L616.0,2846.9 L644.0,2841.6 L672.0,2836.3 L699.9,2831.0 L727.9,2825.7 L755.8,2820.4 L783.8,2815.1 L811.8,2809.8 L839.7,2804.6 L867.7,2799.3 L895.7,2794.0 L923.6,2788.8 L951.6,2783.5 L979.5,2778.3 L1007.5,2773.0 L1035.5,2767.8 L1063.4,2762.5 L1091.4,2757.3 L1119.4,2752.1 L1147.3,2746.9 L1175.3,2741.7 L1203.3,2736.5 L1231.2,2731.3 L1259.2,2726.1 L1287.1,2720.9 L1315.1,2715.7 L1343.1,2710.5 L1345.9,2710.0 L1348.7,2709.5 L1351.5,2709.0 L1354.3,2708.5 L1357.1,2707.9 L1359.9,2707.4 L1362.7,2706.9 L1365.5,2706.4 L1368.3,2705.9 L1371.1,2705.4 L1374.0,2704.8 L1376.8,2704.3 L1379.6,2703.8 L1382.4,2703.3 L1385.2,2702.8 L1388.0,2702.3 L1390.8,2701.7 L1393.6,2701.2 L1396.4,2700.7 L1399.2,2700.2 L1402.0,2699.7 L1404.8,2699.2 L1407.6,2698.6 L1410.4,2698.1 L1413.3,2697.6 L1416.1,2697.1 L1418.9,2696.6 L1421.7,2696.1 L1424.5,2695.5 L1427.3,2695.0 L1430.1,2694.5 L1432.9,2694.0 L1435.7,2693.5 L1438.5,2693.0 L1441.3,2692.5 L1444.1,2691.9 L1446.9,2691.4 L1449.7,2690.9 L1452.5,2690.4 L1455.4,2689.9 L1458.2,2689.4 L1461.0,2688.9 L1463.8,2688.3 L1466.6,2687.8 L1469.4,2687.3 L1472.2,2686.8 L1475.0,2686.3 L1477.8,2685.8 L1480.6,2685.3 L1483.4,2684.8 L1486.2,2684.3 L1489.0,2683.7 L1491.8,2683.2 L1494.7,2682.7 L1497.5,2682.2 L1500.3,2681.7 L1503.1,2681.2 L1505.9,2680.7 L1508.7,2680.2 L1511.5,2679.7 L1514.3,2679.2 L1517.1,2678.7 L1519.9,2678.2 L1522.7,2677.7 L1525.5,2677.2 L1528.3,2676.7 L1531.1,2676.2 L1534.0,2675.6 L1536.8,2675.1 L1539.6,2674.6 L1542.4,2674.1 L1545.2,2673.6 L1548.0,2673.1 L1550.8,2672.6 L1553.6,2672.1 L1556.4,2671.6 L1559.2,2671.2 L1562.0,2670.7 L1564.8,2670.2 L1567.6,2669.7 L1570.4,2669.2 L1573.3,2668.7 L1576.1,2668.2 L1578.9,2667.7 L1581.7,2667.2 L1584.5,2666.7 L1587.3,2666.2 L1590.1,2665.8 L1592.9,2665.3 L1595.7,2664.8 L1598.5,2664.3 L1601.3,2663.8 L1604.1,2663.3 L1606.9,2662.9 L1609.7,2662.4 L1612.6,2661.9 L1615.4,2661.4 L1618.2,2661.0 L1621.0,2660.5 L1623.8,2660.0 L1626.6,2659.6 L1629.4,2659.1 L1632.2,2658.6 L1635.0,2658.2 L1637.8,2657.7 L1640.6,2657.3 L1643.4,2656.8 L1646.2,2656.4 L1649.0,2655.9 L1651.9,2655.5 L1654.7,2655.0 L1657.5,2654.6 L1660.3,2654.2 L1663.1,2653.7 L1665.9,2653.3 L1668.7,2652.9 L1671.5,2652.5 L1674.3,2652.0 L1677.1,2651.6 L1679.9,2651.2 L1682.7,2650.8 L1685.5,2650.4 L1688.3,2650.0 L1691.2,2649.6 L1694.0,2649.2 L1696.8,2648.8 L1699.6,2648.5 L1702.4,2648.1 L1705.2,2647.7 L1708.0,2647.4 L1710.8,2647.0 L1713.6,2646.7 L1716.4,2646.3 L1719.2,2646.0 L1722.0,2645.7 L1724.8,2645.3 L1727.6,2645.0 L1730.5,2644.7 L1733.3,2644.4 L1736.1,2644.1 L1738.9,2643.9 L1741.7,2643.6 L1744.5,2643.3 L1747.3,2643.1 L1750.1,2642.8 L1752.9,2642.6 L1755.7,2642.4 L1758.5,2642.2 L1761.3,2642.0 L1764.1,2641.8 L1766.9,2641.6 L1769.8,2641.5 L1772.6,2641.3 L1775.4,2641.2 L1778.2,2641.1 L1781.0,2641.0 L1783.8,2640.9 L1786.6,2640.8 L1789.4,2640.8 L1792.2,2640.7 L1795.0,2640.7 L1797.8,2640.7 L1800.6,2640.8 L1803.4,2640.8 L1806.2,2640.9 L1809.1,2641.0 L1811.9,2641.1 L1814.7,2641.2 L1817.5,2641.4 L1820.3,2641.5 L1823.1,2641.7 L1825.9,2642.0 L1828.7,2642.2 L1831.5,2642.5 L1834.3,2642.9 L1837.1,2643.2 L1839.9,2643.6 L1842.7,2644.0 L1845.5,2644.5 L1848.4,2644.9 L1851.2,2645.5 L1854.0,2646.0 L1856.8,2646.6 L1859.6,2647.3 L1862.4,2647.9 L1865.2,2648.7 L1868.0,2649.4 L1870.8,2650.2 L1873.6,2651.1 L1876.4,2652.0 L1879.2,2652.9 L1882.0,2653.9 L1884.8,2655.0 L1887.7,2656.1 L1890.5,2657.2 L1893.3,2658.4 L1896.1,2659.7 L1898.9,2661.0 L1901.7,2662.4 L1904.5,2663.9 L1907.3,2665.4 L1910.1,2667.0 L1912.9,2668.6 L1915.7,2670.3 L1918.5,2672.1 L1921.3,2674.0 L1924.1,2675.9 L1927.0,2677.9 L1929.8,2680.0 L1932.6,2682.2 L1935.4,2684.4 L1938.2,2686.8 L1941.0,2689.2 L1943.8,2691.7 L1946.6,2694.3 L1949.4,2696.9 L1952.2,2699.7 L1955.0,2702.6 L1957.8,2705.5 L1960.6,2708.6 L1963.4,2711.7 L1966.3,2715.0 L1969.1,2718.3 L1971.9,2721.7 L1974.7,2725.3 L1977.5,2729.0 L1980.3,2732.7 L1983.1,2736.6 L1985.9,2740.6 L1988.7,2744.7 L1991.5,2748.9 L1994.3,2753.2 L1997.1,2757.6 L1999.9,2762.2 L2002.7,2766.8 L2005.6,2771.6 L2008.4,2776.5 L2011.2,2781.6 L2014.0,2786.7 L2016.8,2792.0 L2019.6,2797.4 L2022.4,2802.9 L2025.2,2808.6 L2028.0,2814.3 L2030.8,2820.2 L2033.6,2826.3 L2036.4,2832.4 L2039.2,2838.7 L2042.0,2845.1 L2044.9,2851.7 L2047.7,2858.3 L2050.5,2865.1 L2053.3,2872.1 L2056.1,2879.2 L2058.9,2886.4 L2061.7,2893.7 L2064.5,2901.2 L2067.3,2908.8 L2070.1,2916.5" stroke="#b4b4f2" stroke-width="5.5" stroke-opacity="0.6"/><path d="M252.5,2916.5 L280.5,2911.1 L308.4,2905.7 L336.4,2900.4 L364.4,2895.0 L392.3,2889.6 L420.3,2884.3 L448.2,2878.9 L476.2,2873.6 L504.2,2868.2 L532.1,2862.9 L560.1,2857.6 L588.1,2852.2 L616.0,2846.9 L644.0,2841.6 L672.0,2836.3 L699.9,2831.0 L727.9,2825.7 L755.8,2820.4 L783.8,2815.1 L811.8,2809.8 L839.7,2804.6 L867.7,2799.3 L895.7,2794.0 L923.6,2788.8 L951.6,2783.5 L979.5,2778.3 L1007.5,2773.0 L1035.5,2767.8 L1063.4,2762.5 L1091.4,2757.3 L1119.4,2752.1 L1147.3,2746.9 L1175.3,2741.7 L1203.3,2736.5 L1231.2,2731.3 L1259.2,2726.1 L1287.1,2720.9 L1315.1,2715.7 L1343.1,2710.5 L1345.9,2710.0 L1348.7,2709.5 L1351.5,2709.0 L1354.3,2708.5 L1357.1,2707.9 L1359.9,2707.4 L1362.7,2706.9 L1365.5,2706.4 L1368.3,2705.9 L1371.1,2705.4 L1374.0,2704.8 L1376.8,2704.3 L1379.6,2703.8 L1382.4,2703.3 L1385.2,2702.8 L1388.0,2702.3 L1390.8,2701.7 L1393.6,2701.2 L1396.4,2700.7 L1399.2,2700.2 L1402.0,2699.7 L1404.8,2699.2 L1407.6,2698.6 L1410.4,2698.1 L1413.3,2697.6 L1416.1,2697.1 L1418.9,2696.6 L1421.7,2696.1 L1424.5,2695.5 L1427.3,2695.0 L1430.1,2694.5 L1432.9,2694.0 L1435.7,2693.5 L1438.5,2693.0 L1441.3,2692.5 L1444.1,2691.9 L1446.9,2691.4 L1449.7,2690.9 L1452.5,2690.4 L1455.4,2689.9 L1458.2,2689.4 L1461.0,2688.9 L1463.8,2688.3 L1466.6,2687.8 L1469.4,2687.3 L1472.2,2686.8 L1475.0,2686.3 L1477.8,2685.8 L1480.6,2685.3 L1483.4,2684.8 L1486.2,2684.3 L1489.0,2683.7 L1491.8,2683.2 L1494.7,2682.7 L1497.5,2682.2 L1500.3,2681.7 L1503.1,2681.2 L1505.9,2680.7 L1508.7,2680.2 L1511.5,2679.7 L1514.3,2679.2 L1517.1,2678.7 L1519.9,2678.2 L1522.7,2677.7 L1525.5,2677.2 L1528.3,2676.7 L1531.1,2676.2 L1534.0,2675.6 L1536.8,2675.1 L1539.6,2674.6 L1542.4,2674.1 L1545.2,2673.6 L1548.0,2673.1 L1550.8,2672.6 L1553.6,2672.1 L1556.4,2671.6 L1559.2,2671.2 L1562.0,2670.7 L1564.8,2670.2 L1567.6,2669.7 L1570.4,2669.2 L1573.3,2668.7 L1576.1,2668.2 L1578.9,2667.7 L1581.7,2667.2 L1584.5,2666.7 L1587.3,2666.2 L1590.1,2665.8 L1592.9,2665.3 L1595.7,2664.8 L1598.5,2664.3 L1601.3,2663.8 L1604.1,2663.3 L1606.9,2662.9 L1609.7,2662.4 L1612.6,2661.9 L1615.4,2661.4 L1618.2,2661.0 L1621.0,2660.5 L1623.8,2660.0 L1626.6,2659.6 L1629.4,2659.1 L1632.2,2658.6 L1635.0,2658.2 L1637.8,2657.7 L1640.6,2657.3 L1643.4,2656.8 L1646.2,2656.4 L1649.0,2655.9 L1651.9,2655.5 L1654.7,2655.0 L1657.5,2654.6 L1660.3,2654.2 L1663.1,2653.7 L1665.9,2653.3 L1668.7,2652.9 L1671.5,2652.5 L1674.3,2652.0 L1677.1,2651.6 L1679.9,2651.2 L1682.7,2650.8 L1685.5,2650.4 L1688.3,2650.0 L1691.2,2649.6 L1694.0,2649.2 L1696.8,2648.8 L1699.6,2648.5 L1702.4,2648.1 L1705.2,2647.7 L1708.0,2647.4 L1710.8,2647.0 L1713.6,2646.7 L1716.4,2646.3 L1719.2,2646.0 L1722.0,2645.7 L1724.8,2645.3 L1727.6,2645.0 L1730.5,2644.7 L1733.3,2644.4 L1736.1,2644.1 L1738.9,2643.9 L1741.7,2643.6 L1744.5,2643.3 L1747.3,2643.1 L1750.1,2642.8 L1752.9,2642.6 L1755.7,2642.4 L1758.5,2642.2 L1761.3,2642.0 L1764.1,2641.8 L1766.9,2641.6 L1769.8,2641.5 L1772.6,2641.3 L1775.4,2641.2 L1778.2,2641.1 L1781.0,2641.0 L1783.8,2640.9 L1786.6,2640.8 L1789.4,2640.8 L1792.2,2640.7 L1795.0,2640.7 L1797.8,2640.7 L1800.6,2640.8 L1803.4,2640.8 L1806.2,2640.9 L1809.1,2641.0 L1811.9,2641.1 L1814.7,2641.2 L1817.5,2641.4 L1820.3,2641.5 L1823.1,2641.7 L1825.9,2642.0 L1828.7,2642.2 L1831.5,2642.5 L1834.3,2642.9 L1837.1,2643.2 L1839.9,2643.6 L1842.7,2644.0 L1845.5,2644.5 L1848.4,2644.9 L1851.2,2645.5 L1854.0,2646.0 L1856.8,2646.6 L1859.6,2647.3 L1862.4,2647.9 L1865.2,2648.7 L1868.0,2649.4 L1870.8,2650.2 L1873.6,2651.1 L1876.4,2652.0 L1879.2,2652.9 L1882.0,2653.9 L1884.8,2655.0 L1887.7,2656.1 L1890.5,2657.2 L1893.3,2658.4 L1896.1,2659.7 L1898.9,2661.0 L1901.7,2662.4 L1904.5,2663.9 L1907.3,2665.4 L1910.1,2667.0 L1912.9,2668.6 L1915.7,2670.3 L1918.5,2672.1 L1921.3,2674.0 L1924.1,2675.9 L1927.0,2677.9 L1929.8,2680.0 L1932.6,2682.2 L1935.4,2684.4 L1938.2,2686.8 L1941.0,2689.2 L1943.8,2691.7 L1946.6,2694.3 L1949.4,2696.9 L1952.2,2699.7 L1955.0,2702.6 L1957.8,2705.5 L1960.6,2708.6 L1963.4,2711.7 L1966.3,2715.0 L1969.1,2718.3 L1971.9,2721.7 L1974.7,2725.3 L1977.5,2729.0 L1980.3,2732.7 L1983.1,2736.6 L1985.9,2740.6 L1988.7,2744.7 L1991.5,2748.9 L1994.3,2753.2 L1997.1,2757.6 L1999.9,2762.2 L2002.7,2766.8 L2005.6,2771.6 L2008.4,2776.5 L2011.2,2781.6 L2014.0,2786.7 L2016.8,2792.0 L2019.6,2797.4 L2022.4,2802.9 L2025.2,2808.6 L2028.0,2814.3 L2030.8,2820.2 L2033.6,2826.3 L2036.4,2832.4 L2039.2,2838.7 L2042.0,2845.1 L2044.9,2851.7 L2047.7,2858.3 L2050.5,2865.1 L2053.3,2872.1 L2056.1,2879.2 L2058.9,2886.4 L2061.7,2893.7 L2064.5,2901.2 L2067.3,2908.8 L2070.1,2916.5" stroke="#181866" stroke-width="2.8"/>
<circle cx="1802.0" cy="2363.3" r="18" stroke="#c050c8" stroke-width="3"/>
<circle cx="1803.0" cy="2500.8" r="18" stroke="#c050c8" stroke-width="3"/>
<circle cx="1797.0" cy="2640.3" r="18" stroke="#c050c8" stroke-width="3"/>
</g>
<text x="1829" y="2260.2" font-size="60" fill="#a82a2a" stroke="#ffffff" stroke-width="1.1">1 kW/m<tspan dx="-1" dy="-29" font-size="46">2</tspan></text>
<text x="1828" y="2398.3" font-size="60" fill="#000" stroke="#ffffff" stroke-width="1.1">0.8 kW/m<tspan dx="-1" dy="-29" font-size="46">2</tspan></text>
<text x="1828" y="2535" font-size="60" fill="#000" stroke="#ffffff" stroke-width="1.1">0.6 kW/m<tspan dx="-1" dy="-29" font-size="46">2</tspan></text>
<text x="1828" y="2672.5" font-size="60" fill="#000" stroke="#ffffff" stroke-width="1.1">0.4 kW/m<tspan dx="-1" dy="-29" font-size="46">2</tspan></text>
</svg>
</body></html>
